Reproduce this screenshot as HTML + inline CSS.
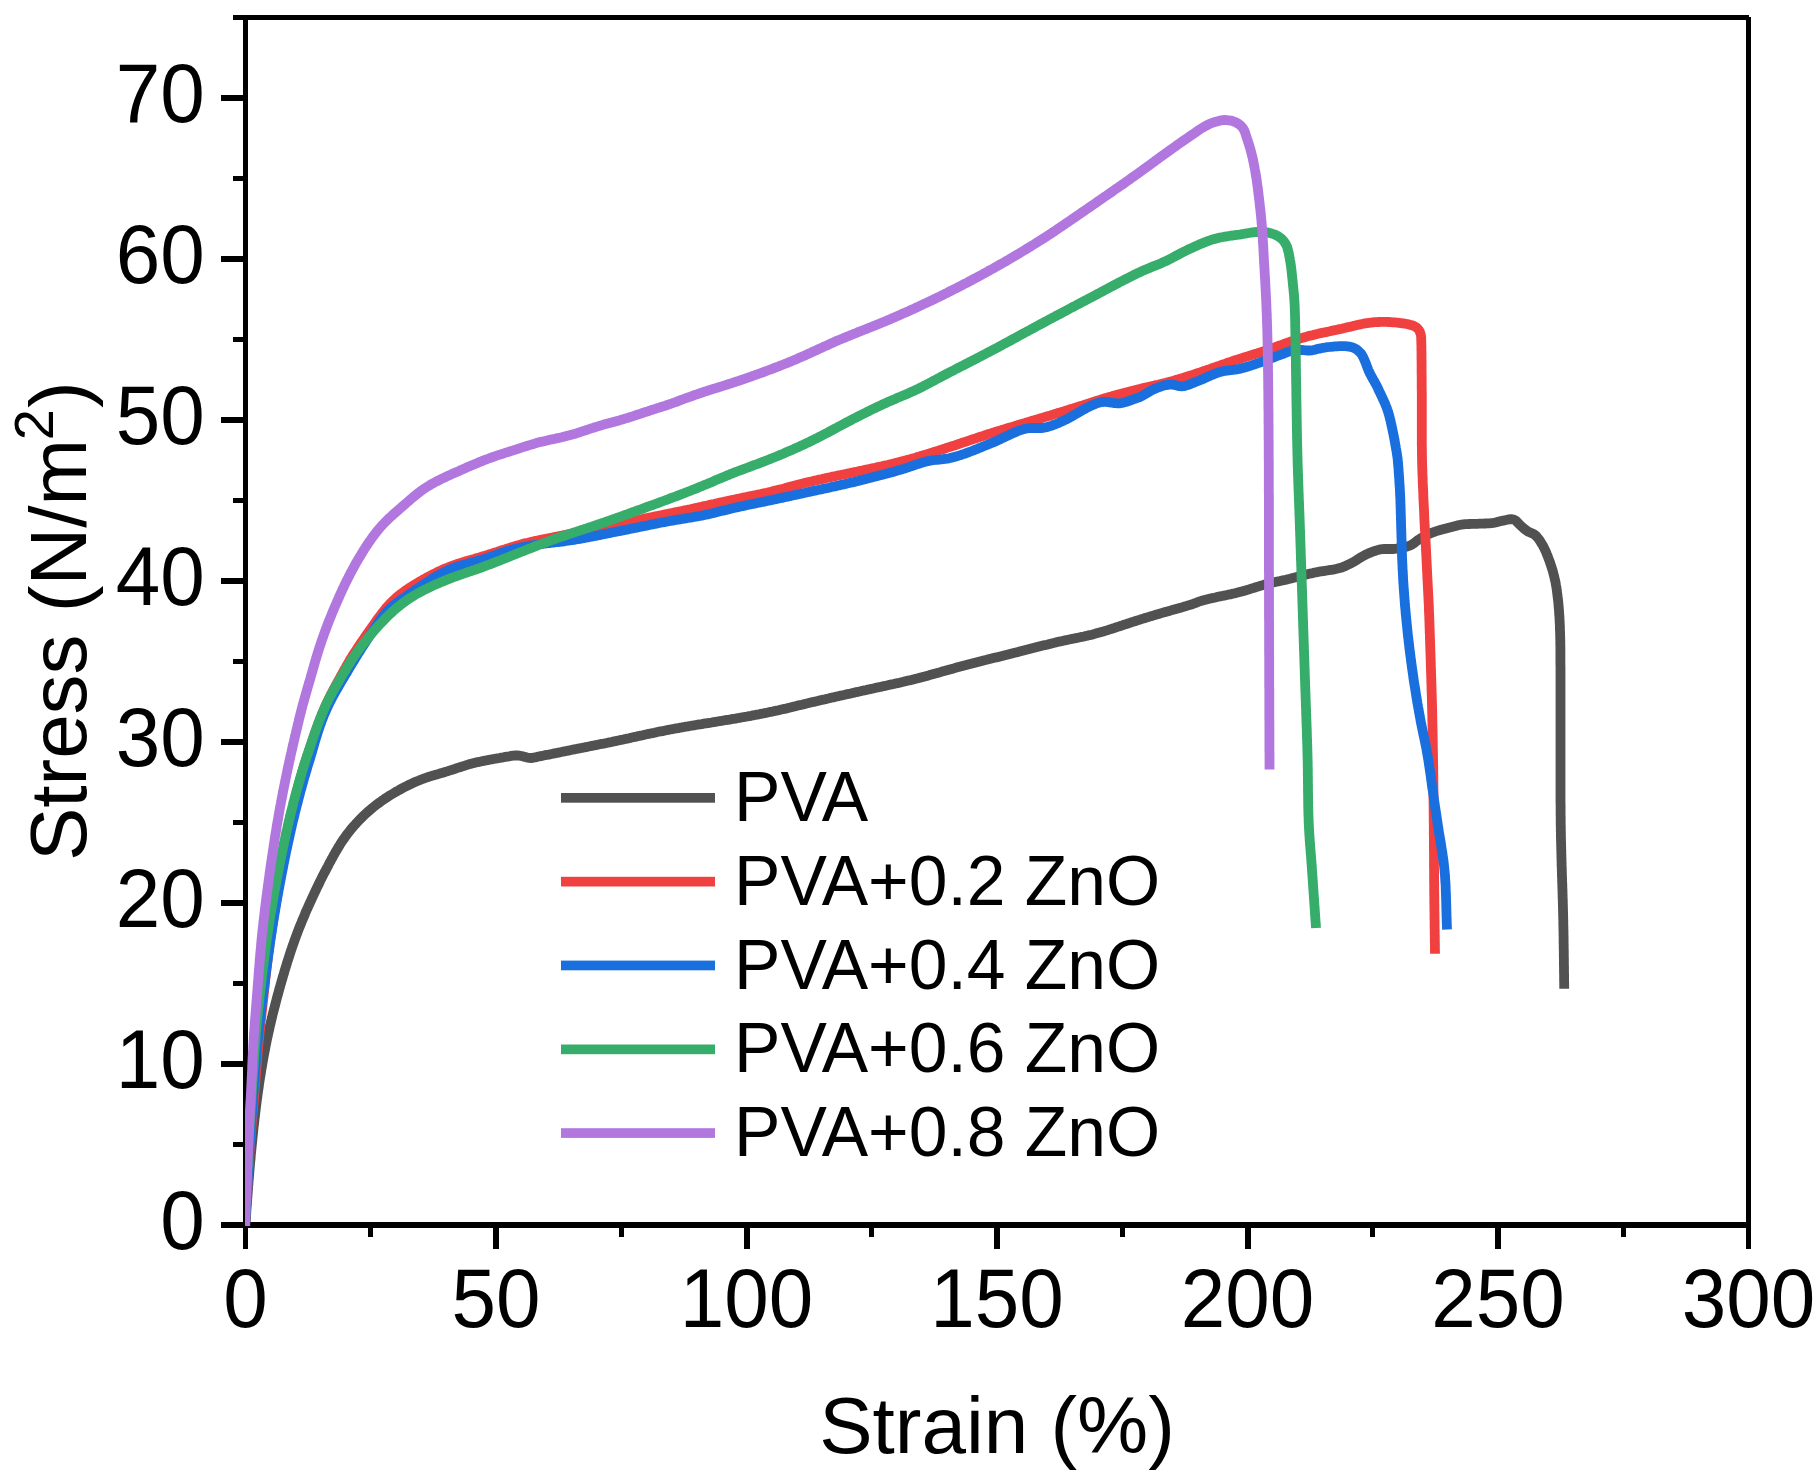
<!DOCTYPE html>
<html><head><meta charset="utf-8"><title>Stress-Strain</title>
<style>html,body{margin:0;padding:0;background:#fff}svg{display:block}text{font-family:"Liberation Sans",Arial,sans-serif;fill:#000}</style></head><body>
<svg width="1820" height="1484" viewBox="0 0 1820 1484">
<rect width="1820" height="1484" fill="#fff"/>
<g fill="#000" shape-rendering="crispEdges">
<rect x="233" y="15" width="1516" height="5"/>
<rect x="243" y="15" width="5" height="1213"/>
<rect x="1746" y="17" width="5" height="1232"/>
<rect x="221" y="1222" width="1530" height="6"/>
<rect x="221" y="1061" width="24" height="6"/>
<rect x="221" y="900" width="24" height="6"/>
<rect x="221" y="739" width="24" height="6"/>
<rect x="221" y="578" width="24" height="6"/>
<rect x="221" y="417" width="24" height="6"/>
<rect x="221" y="256" width="24" height="6"/>
<rect x="221" y="95" width="24" height="6"/>
<rect x="233" y="1142" width="12" height="5"/>
<rect x="233" y="981" width="12" height="5"/>
<rect x="233" y="820" width="12" height="5"/>
<rect x="233" y="659" width="12" height="5"/>
<rect x="233" y="498" width="12" height="5"/>
<rect x="233" y="337" width="12" height="5"/>
<rect x="233" y="176" width="12" height="5"/>
<rect x="243" y="1225" width="5" height="24"/>
<rect x="493" y="1225" width="6" height="24"/>
<rect x="744" y="1225" width="6" height="24"/>
<rect x="994" y="1225" width="6" height="24"/>
<rect x="1245" y="1225" width="6" height="24"/>
<rect x="1495" y="1225" width="6" height="24"/>
<rect x="368" y="1225" width="5" height="12"/>
<rect x="619" y="1225" width="5" height="12"/>
<rect x="869" y="1225" width="5" height="12"/>
<rect x="1120" y="1225" width="5" height="12"/>
<rect x="1370" y="1225" width="5" height="12"/>
<rect x="1621" y="1225" width="5" height="12"/>
</g>
<defs><clipPath id="plot"><rect x="245" y="15" width="1506" height="1211"/></clipPath></defs>
<g clip-path="url(#plot)" fill="none" stroke-width="9.8" stroke-linejoin="round" stroke-linecap="butt">
<path d="M245.3 1226.0 L245.5 1224.0 L245.6 1222.0 L245.7 1220.0 L245.9 1218.0 L246.0 1216.0 L246.2 1214.0 L246.3 1212.0 L246.4 1210.0 L246.6 1208.0 L246.7 1206.0 L246.9 1204.0 L247.0 1202.0 L247.2 1200.0 L247.3 1198.1 L247.5 1196.1 L247.6 1194.1 L247.8 1192.1 L247.9 1190.1 L248.1 1188.1 L248.2 1186.1 L248.4 1184.1 L248.5 1182.1 L248.7 1180.1 L248.9 1178.1 L249.0 1176.1 L249.2 1174.1 L249.3 1172.1 L249.5 1170.1 L249.7 1168.1 L249.9 1166.1 L250.0 1164.1 L250.2 1162.1 L250.4 1160.2 L250.6 1158.2 L250.7 1156.2 L250.9 1154.2 L251.1 1152.2 L251.3 1150.2 L251.5 1148.2 L251.7 1146.2 L251.9 1144.2 L252.1 1142.2 L252.3 1140.2 L252.5 1138.2 L252.7 1136.2 L252.9 1134.3 L253.1 1132.3 L253.3 1130.3 L253.5 1128.3 L253.7 1126.3 L254.0 1124.3 L254.2 1122.3 L254.4 1120.3 L254.6 1118.3 L254.9 1116.4 L255.1 1114.4 L255.3 1112.4 L255.6 1110.4 L255.8 1108.4 L256.1 1106.4 L256.3 1104.4 L256.6 1102.5 L256.8 1100.5 L257.1 1098.5 L257.4 1096.5 L257.6 1094.5 L257.9 1092.5 L258.2 1090.6 L258.5 1088.6 L258.8 1086.6 L259.0 1084.6 L259.3 1082.6 L259.6 1080.7 L259.9 1078.7 L260.2 1076.7 L260.6 1074.7 L260.9 1072.8 L261.2 1070.8 L261.5 1068.8 L261.9 1066.8 L262.2 1064.9 L262.5 1062.9 L262.9 1060.9 L263.2 1058.9 L263.6 1057.0 L263.9 1055.0 L264.3 1053.0 L264.7 1051.1 L265.1 1049.1 L265.4 1047.1 L265.8 1045.2 L266.2 1043.2 L266.6 1041.3 L267.0 1039.3 L267.4 1037.3 L267.9 1035.4 L268.3 1033.4 L268.7 1031.5 L269.2 1029.5 L269.6 1027.6 L270.0 1025.6 L270.5 1023.7 L270.9 1021.7 L271.4 1019.8 L271.9 1017.8 L272.3 1015.9 L272.8 1013.9 L273.3 1012.0 L273.8 1010.1 L274.3 1008.1 L274.8 1006.2 L275.3 1004.2 L275.8 1002.3 L276.3 1000.4 L276.8 998.4 L277.3 996.5 L277.9 994.6 L278.4 992.6 L278.9 990.7 L279.4 988.8 L280.0 986.9 L280.5 984.9 L281.1 983.0 L281.6 981.1 L282.2 979.2 L282.7 977.2 L283.3 975.3 L283.9 973.4 L284.4 971.5 L285.0 969.6 L285.6 967.6 L286.2 965.7 L286.8 963.8 L287.3 961.9 L288.0 960.0 L288.6 958.1 L289.2 956.2 L289.8 954.3 L290.4 952.4 L291.0 950.5 L291.7 948.6 L292.3 946.7 L293.0 944.8 L293.7 942.9 L294.3 941.0 L295.0 939.1 L295.7 937.3 L296.4 935.4 L297.1 933.5 L297.8 931.6 L298.5 929.8 L299.2 927.9 L300.0 926.1 L300.7 924.2 L301.5 922.4 L302.2 920.5 L303.0 918.7 L303.8 916.8 L304.6 915.0 L305.3 913.1 L306.1 911.3 L306.9 909.5 L307.8 907.6 L308.6 905.8 L309.4 904.0 L310.2 902.2 L311.1 900.3 L311.9 898.5 L312.7 896.7 L313.6 894.9 L314.4 893.1 L315.3 891.3 L316.2 889.4 L317.0 887.6 L317.9 885.8 L318.8 884.0 L319.6 882.2 L320.5 880.4 L321.4 878.6 L322.3 876.8 L323.2 875.0 L324.1 873.3 L325.1 871.5 L326.0 869.7 L326.9 867.9 L327.9 866.2 L328.8 864.4 L329.7 862.6 L330.7 860.9 L331.6 859.1 L332.6 857.4 L333.5 855.6 L334.5 853.9 L335.5 852.1 L336.5 850.4 L337.5 848.7 L338.5 847.0 L339.6 845.3 L340.6 843.6 L341.7 841.9 L342.9 840.2 L344.0 838.6 L345.1 837.0 L346.3 835.3 L347.5 833.7 L348.7 832.2 L350.0 830.6 L351.2 829.0 L352.5 827.5 L353.8 826.0 L355.2 824.5 L356.5 823.0 L357.9 821.5 L359.2 820.1 L360.6 818.7 L362.1 817.2 L363.5 815.8 L364.9 814.5 L366.4 813.1 L367.9 811.8 L369.4 810.5 L370.9 809.2 L372.5 807.9 L374.0 806.6 L375.6 805.4 L377.2 804.2 L378.8 803.0 L380.4 801.8 L382.0 800.6 L383.7 799.5 L385.3 798.4 L387.0 797.3 L388.7 796.2 L390.4 795.1 L392.1 794.1 L393.8 793.1 L395.5 792.0 L397.3 791.1 L399.0 790.1 L400.8 789.1 L402.5 788.2 L404.3 787.2 L406.1 786.3 L407.9 785.4 L409.7 784.5 L411.5 783.7 L413.3 782.8 L415.1 782.0 L417.0 781.2 L418.8 780.5 L420.7 779.7 L422.5 779.0 L424.4 778.3 L426.3 777.7 L428.2 777.0 L430.1 776.4 L432.0 775.8 L433.9 775.3 L435.8 774.7 L437.8 774.2 L439.7 773.6 L441.6 773.1 L443.5 772.5 L445.4 771.9 L447.3 771.3 L449.2 770.7 L451.1 770.1 L453.0 769.5 L454.9 768.9 L456.8 768.2 L458.7 767.6 L460.6 767.0 L462.5 766.4 L464.4 765.8 L466.3 765.2 L468.2 764.6 L470.1 764.1 L472.0 763.6 L474.0 763.1 L475.9 762.6 L477.9 762.1 L479.8 761.7 L481.8 761.3 L483.7 760.9 L485.7 760.5 L487.7 760.1 L489.6 759.7 L491.6 759.4 L493.6 759.0 L495.5 758.7 L497.5 758.3 L499.5 758.0 L501.4 757.6 L503.4 757.3 L505.4 756.9 L507.3 756.6 L509.3 756.3 L511.3 755.9 L513.3 755.6 L515.3 755.5 L517.3 755.5 L519.3 755.7 L521.2 756.0 L523.2 756.4 L525.1 756.9 L527.0 757.5 L529.0 757.9 L531.0 758.0 L533.0 757.8 L534.9 757.4 L536.9 756.9 L538.8 756.5 L540.8 756.1 L542.8 755.7 L544.7 755.3 L546.7 754.9 L548.7 754.6 L550.6 754.2 L552.6 753.8 L554.5 753.4 L556.5 753.0 L558.5 752.6 L560.4 752.2 L562.4 751.8 L564.4 751.4 L566.3 751.0 L568.3 750.6 L570.2 750.2 L572.2 749.8 L574.2 749.4 L576.1 749.0 L578.1 748.6 L580.1 748.2 L582.0 747.9 L584.0 747.5 L585.9 747.1 L587.9 746.7 L589.9 746.3 L591.8 745.9 L593.8 745.5 L595.8 745.1 L597.7 744.7 L599.7 744.3 L601.6 743.9 L603.6 743.6 L605.6 743.2 L607.5 742.8 L609.5 742.4 L611.5 742.0 L613.4 741.5 L615.4 741.1 L617.3 740.7 L619.3 740.3 L621.2 739.9 L623.2 739.5 L625.2 739.0 L627.1 738.6 L629.1 738.2 L631.0 737.7 L633.0 737.3 L634.9 736.9 L636.9 736.4 L638.8 736.0 L640.8 735.6 L642.7 735.2 L644.7 734.7 L646.7 734.3 L648.6 733.9 L650.6 733.5 L652.5 733.1 L654.5 732.7 L656.4 732.2 L658.4 731.8 L660.4 731.4 L662.3 731.1 L664.3 730.7 L666.3 730.3 L668.2 729.9 L670.2 729.5 L672.2 729.2 L674.1 728.8 L676.1 728.4 L678.1 728.1 L680.0 727.7 L682.0 727.4 L684.0 727.0 L685.9 726.7 L687.9 726.4 L689.9 726.0 L691.9 725.7 L693.8 725.4 L695.8 725.0 L697.8 724.7 L699.8 724.4 L701.7 724.1 L703.7 723.7 L705.7 723.4 L707.7 723.1 L709.6 722.8 L711.6 722.5 L713.6 722.1 L715.6 721.8 L717.5 721.5 L719.5 721.2 L721.5 720.9 L723.5 720.5 L725.4 720.2 L727.4 719.9 L729.4 719.6 L731.4 719.2 L733.3 718.9 L735.3 718.6 L737.3 718.2 L739.3 717.9 L741.2 717.5 L743.2 717.2 L745.2 716.8 L747.1 716.5 L749.1 716.1 L751.1 715.8 L753.0 715.4 L755.0 715.0 L757.0 714.6 L758.9 714.3 L760.9 713.9 L762.9 713.5 L764.8 713.1 L766.8 712.7 L768.7 712.3 L770.7 711.9 L772.7 711.5 L774.6 711.0 L776.6 710.6 L778.5 710.2 L780.5 709.7 L782.4 709.3 L784.4 708.9 L786.3 708.4 L788.3 707.9 L790.2 707.5 L792.2 707.0 L794.1 706.5 L796.1 706.1 L798.0 705.6 L799.9 705.1 L801.9 704.7 L803.8 704.2 L805.8 703.7 L807.7 703.3 L809.7 702.8 L811.6 702.3 L813.6 701.9 L815.5 701.4 L817.5 701.0 L819.4 700.5 L821.4 700.0 L823.3 699.6 L825.3 699.2 L827.2 698.7 L829.2 698.3 L831.1 697.8 L833.1 697.4 L835.0 696.9 L837.0 696.5 L838.9 696.1 L840.9 695.6 L842.8 695.2 L844.8 694.8 L846.7 694.3 L848.7 693.9 L850.7 693.5 L852.6 693.0 L854.6 692.6 L856.5 692.1 L858.5 691.7 L860.4 691.3 L862.4 690.8 L864.3 690.4 L866.3 690.0 L868.2 689.5 L870.2 689.1 L872.1 688.7 L874.1 688.3 L876.1 687.8 L878.0 687.4 L880.0 687.0 L881.9 686.6 L883.9 686.1 L885.8 685.7 L887.8 685.3 L889.7 684.8 L891.7 684.4 L893.6 684.0 L895.6 683.5 L897.6 683.1 L899.5 682.7 L901.5 682.2 L903.4 681.8 L905.4 681.3 L907.3 680.8 L909.2 680.4 L911.2 679.9 L913.1 679.4 L915.1 678.9 L917.0 678.5 L919.0 678.0 L920.9 677.4 L922.8 676.9 L924.8 676.4 L926.7 675.9 L928.6 675.4 L930.6 674.8 L932.5 674.3 L934.4 673.8 L936.3 673.2 L938.3 672.7 L940.2 672.2 L942.1 671.6 L944.0 671.1 L946.0 670.5 L947.9 670.0 L949.8 669.4 L951.7 668.9 L953.7 668.4 L955.6 667.8 L957.5 667.3 L959.5 666.8 L961.4 666.2 L963.3 665.7 L965.3 665.2 L967.2 664.7 L969.1 664.2 L971.1 663.7 L973.0 663.2 L974.9 662.7 L976.9 662.2 L978.8 661.7 L980.8 661.2 L982.7 660.7 L984.6 660.2 L986.6 659.8 L988.5 659.3 L990.5 658.8 L992.4 658.3 L994.4 657.8 L996.3 657.4 L998.2 656.9 L1000.2 656.4 L1002.1 655.9 L1004.1 655.4 L1006.0 655.0 L1008.0 654.5 L1009.9 654.0 L1011.8 653.5 L1013.8 653.0 L1015.7 652.5 L1017.7 652.1 L1019.6 651.6 L1021.5 651.1 L1023.5 650.6 L1025.4 650.1 L1027.4 649.6 L1029.3 649.1 L1031.2 648.6 L1033.2 648.1 L1035.1 647.6 L1037.1 647.1 L1039.0 646.6 L1040.9 646.1 L1042.9 645.6 L1044.8 645.1 L1046.8 644.7 L1048.7 644.2 L1050.6 643.7 L1052.6 643.2 L1054.5 642.8 L1056.5 642.3 L1058.4 641.8 L1060.4 641.4 L1062.3 641.0 L1064.3 640.5 L1066.2 640.1 L1068.2 639.7 L1070.2 639.3 L1072.1 638.9 L1074.1 638.5 L1076.0 638.1 L1078.0 637.7 L1080.0 637.3 L1081.9 636.9 L1083.9 636.5 L1085.8 636.0 L1087.8 635.6 L1089.7 635.1 L1091.7 634.7 L1093.6 634.2 L1095.5 633.6 L1097.5 633.1 L1099.4 632.6 L1101.3 632.0 L1103.2 631.5 L1105.2 630.9 L1107.1 630.3 L1109.0 629.7 L1110.9 629.1 L1112.8 628.5 L1114.7 627.9 L1116.6 627.2 L1118.5 626.6 L1120.4 626.0 L1122.3 625.4 L1124.2 624.7 L1126.1 624.1 L1128.0 623.5 L1129.9 622.9 L1131.8 622.2 L1133.7 621.6 L1135.6 621.0 L1137.5 620.4 L1139.4 619.8 L1141.3 619.2 L1143.2 618.6 L1145.1 618.0 L1147.1 617.4 L1149.0 616.8 L1150.9 616.2 L1152.8 615.7 L1154.7 615.1 L1156.6 614.5 L1158.6 614.0 L1160.5 613.4 L1162.4 612.8 L1164.3 612.3 L1166.3 611.7 L1168.2 611.2 L1170.1 610.7 L1172.0 610.1 L1174.0 609.6 L1175.9 609.0 L1177.8 608.5 L1179.7 607.9 L1181.7 607.4 L1183.6 606.8 L1185.5 606.3 L1187.4 605.7 L1189.3 605.1 L1191.3 604.5 L1193.1 603.9 L1195.0 603.2 L1196.9 602.4 L1198.7 601.7 L1200.6 601.1 L1202.5 600.5 L1204.5 600.0 L1206.4 599.5 L1208.4 599.0 L1210.3 598.5 L1212.3 598.1 L1214.2 597.7 L1216.2 597.3 L1218.1 596.8 L1220.1 596.4 L1222.1 596.0 L1224.0 595.6 L1226.0 595.2 L1227.9 594.8 L1229.9 594.4 L1231.8 593.9 L1233.8 593.5 L1235.7 593.1 L1237.7 592.6 L1239.6 592.1 L1241.6 591.6 L1243.5 591.0 L1245.4 590.5 L1247.3 589.9 L1249.2 589.3 L1251.1 588.7 L1253.1 588.1 L1255.0 587.5 L1256.9 586.9 L1258.8 586.3 L1260.7 585.7 L1262.6 585.2 L1264.5 584.6 L1266.5 584.1 L1268.4 583.6 L1270.4 583.2 L1272.3 582.7 L1274.3 582.3 L1276.2 581.8 L1278.2 581.4 L1280.1 581.0 L1282.1 580.5 L1284.0 580.1 L1286.0 579.7 L1287.9 579.2 L1289.9 578.8 L1291.8 578.3 L1293.8 577.8 L1295.7 577.3 L1297.7 576.8 L1299.6 576.3 L1301.5 575.8 L1303.5 575.3 L1305.4 574.8 L1307.3 574.3 L1309.3 573.8 L1311.2 573.4 L1313.2 572.9 L1315.1 572.5 L1317.1 572.1 L1319.1 571.7 L1321.0 571.4 L1323.0 571.1 L1325.0 570.8 L1327.0 570.5 L1329.0 570.2 L1330.9 569.9 L1332.9 569.6 L1334.9 569.2 L1336.8 568.8 L1338.8 568.3 L1340.7 567.8 L1342.6 567.1 L1344.5 566.4 L1346.3 565.6 L1348.1 564.7 L1349.9 563.8 L1351.7 562.9 L1353.4 562.0 L1355.2 561.0 L1356.9 559.9 L1358.5 558.8 L1360.2 557.7 L1361.9 556.7 L1363.7 555.7 L1365.4 554.8 L1367.3 553.9 L1369.1 553.1 L1370.9 552.4 L1372.8 551.6 L1374.7 551.0 L1376.6 550.4 L1378.5 549.8 L1380.5 549.4 L1382.5 549.2 L1384.5 549.0 L1386.5 549.0 L1388.5 549.0 L1390.5 549.0 L1392.5 549.0 L1394.5 548.8 L1396.4 548.6 L1398.4 548.3 L1400.4 548.0 L1402.4 547.6 L1404.3 547.2 L1406.3 546.8 L1408.2 546.2 L1410.1 545.5 L1411.8 544.6 L1413.5 543.5 L1415.1 542.3 L1416.7 541.0 L1418.3 539.9 L1420.0 538.8 L1421.7 537.8 L1423.5 536.8 L1425.2 535.9 L1427.0 534.9 L1428.8 534.1 L1430.7 533.3 L1432.5 532.5 L1434.4 531.8 L1436.3 531.2 L1438.2 530.6 L1440.1 530.0 L1442.0 529.5 L1444.0 528.9 L1445.9 528.4 L1447.8 527.9 L1449.8 527.4 L1451.7 526.9 L1453.6 526.4 L1455.6 525.9 L1457.5 525.4 L1459.5 525.0 L1461.4 524.7 L1463.4 524.4 L1465.4 524.2 L1467.4 524.1 L1469.4 524.0 L1471.4 523.9 L1473.4 523.9 L1475.4 523.8 L1477.4 523.8 L1479.4 523.7 L1481.4 523.6 L1483.4 523.6 L1485.4 523.5 L1487.4 523.4 L1489.4 523.3 L1491.4 523.1 L1493.4 522.9 L1495.4 522.5 L1497.3 522.0 L1499.2 521.5 L1501.2 521.0 L1503.1 520.6 L1505.1 520.2 L1507.1 519.8 L1509.0 519.4 L1511.0 519.2 L1513.0 519.3 L1514.9 520.0 L1516.4 521.3 L1517.8 522.7 L1519.2 524.2 L1520.6 525.5 L1522.1 526.9 L1523.6 528.2 L1525.1 529.5 L1526.7 530.7 L1528.4 531.8 L1530.3 532.6 L1532.1 533.3 L1533.9 534.2 L1535.5 535.4 L1536.9 536.9 L1538.2 538.4 L1539.4 540.0 L1540.5 541.7 L1541.5 543.4 L1542.6 545.1 L1543.5 546.8 L1544.4 548.6 L1545.3 550.5 L1546.1 552.3 L1546.8 554.1 L1547.6 556.0 L1548.3 557.9 L1549.0 559.7 L1549.7 561.6 L1550.3 563.5 L1551.0 565.4 L1551.6 567.3 L1552.2 569.2 L1552.8 571.1 L1553.3 573.1 L1553.8 575.0 L1554.3 576.9 L1554.7 578.9 L1555.2 580.8 L1555.6 582.8 L1555.9 584.8 L1556.3 586.7 L1556.6 588.7 L1556.9 590.7 L1557.1 592.7 L1557.4 594.7 L1557.6 596.7 L1557.8 598.6 L1558.1 600.6 L1558.3 602.6 L1558.5 604.6 L1558.6 606.6 L1558.8 608.6 L1559.0 610.6 L1559.1 612.6 L1559.2 614.6 L1559.4 616.6 L1559.5 618.6 L1559.6 620.6 L1559.7 622.6 L1559.8 624.6 L1559.9 626.6 L1559.9 628.6 L1560.0 630.6 L1560.1 632.6 L1560.1 634.6 L1560.2 636.6 L1560.2 638.6 L1560.3 640.6 L1560.3 642.6 L1560.3 644.6 L1560.4 646.6 L1560.4 648.6 L1560.4 650.6 L1560.4 652.6 L1560.4 654.6 L1560.4 656.6 L1560.4 658.6 L1560.4 660.6 L1560.4 662.6 L1560.4 664.6 L1560.5 666.6 L1560.5 668.6 L1560.5 670.6 L1560.5 672.6 L1560.5 674.6 L1560.5 676.6 L1560.5 678.6 L1560.5 680.6 L1560.5 682.6 L1560.5 684.6 L1560.5 686.6 L1560.5 688.6 L1560.5 690.6 L1560.5 692.6 L1560.5 694.6 L1560.5 696.6 L1560.5 698.6 L1560.5 700.6 L1560.5 702.6 L1560.5 704.6 L1560.5 706.6 L1560.5 708.6 L1560.5 710.6 L1560.5 712.6 L1560.5 714.6 L1560.5 716.6 L1560.5 718.6 L1560.5 720.6 L1560.5 722.6 L1560.5 724.6 L1560.5 726.6 L1560.5 728.6 L1560.5 730.6 L1560.5 732.6 L1560.5 734.6 L1560.5 736.6 L1560.5 738.6 L1560.5 740.6 L1560.5 742.6 L1560.5 744.6 L1560.5 746.6 L1560.5 748.6 L1560.5 750.6 L1560.5 752.6 L1560.5 754.6 L1560.5 756.7 L1560.5 758.7 L1560.5 760.7 L1560.5 762.7 L1560.5 764.7 L1560.5 766.7 L1560.5 768.7 L1560.5 770.7 L1560.5 772.7 L1560.5 774.7 L1560.5 776.7 L1560.5 778.7 L1560.5 780.7 L1560.5 782.7 L1560.5 784.7 L1560.5 786.7 L1560.5 788.7 L1560.5 790.7 L1560.5 792.7 L1560.5 794.7 L1560.5 796.7 L1560.5 798.7 L1560.5 800.7 L1560.5 802.7 L1560.6 804.7 L1560.6 806.7 L1560.6 808.7 L1560.6 810.7 L1560.6 812.7 L1560.6 814.7 L1560.7 816.7 L1560.7 818.7 L1560.7 820.7 L1560.7 822.7 L1560.7 824.7 L1560.8 826.7 L1560.8 828.7 L1560.8 830.7 L1560.9 832.7 L1560.9 834.7 L1560.9 836.7 L1561.0 838.7 L1561.0 840.7 L1561.1 842.7 L1561.1 844.7 L1561.2 846.7 L1561.2 848.7 L1561.3 850.7 L1561.3 852.7 L1561.4 854.7 L1561.4 856.7 L1561.5 858.7 L1561.5 860.7 L1561.6 862.7 L1561.6 864.7 L1561.7 866.7 L1561.8 868.7 L1561.8 870.7 L1561.9 872.7 L1561.9 874.7 L1562.0 876.7 L1562.1 878.7 L1562.1 880.7 L1562.2 882.7 L1562.3 884.7 L1562.3 886.7 L1562.4 888.7 L1562.5 890.7 L1562.5 892.7 L1562.6 894.7 L1562.6 896.7 L1562.7 898.7 L1562.8 900.7 L1562.8 902.7 L1562.9 904.7 L1562.9 906.7 L1563.0 908.7 L1563.0 910.7 L1563.1 912.7 L1563.1 914.7 L1563.2 916.7 L1563.2 918.7 L1563.3 920.7 L1563.3 922.7 L1563.3 924.7 L1563.4 926.7 L1563.4 928.7 L1563.5 930.7 L1563.5 932.7 L1563.5 934.7 L1563.6 936.7 L1563.6 938.7 L1563.6 940.7 L1563.6 942.7 L1563.7 944.7 L1563.7 946.7 L1563.7 948.7 L1563.8 950.7 L1563.8 952.7 L1563.8 954.7 L1563.8 956.7 L1563.9 958.7 L1563.9 960.7 L1563.9 962.7 L1563.9 964.7 L1564.0 966.7 L1564.0 968.7 L1564.0 970.7 L1564.0 972.7 L1564.1 974.7 L1564.1 976.7 L1564.1 978.7 L1564.1 980.7 L1564.2 982.7 L1564.2 984.7 L1564.2 986.7 L1564.2 988.8" stroke="#515151"/>
<path d="M245.0 1226.0 L245.1 1224.0 L245.2 1222.0 L245.4 1220.0 L245.5 1218.0 L245.6 1216.0 L245.7 1214.0 L245.9 1212.0 L246.0 1210.0 L246.1 1208.0 L246.2 1206.0 L246.3 1204.0 L246.4 1202.0 L246.6 1200.0 L246.7 1198.0 L246.8 1196.0 L246.9 1194.0 L247.0 1192.1 L247.1 1190.1 L247.3 1188.1 L247.4 1186.1 L247.5 1184.1 L247.6 1182.1 L247.7 1180.1 L247.9 1178.1 L248.0 1176.1 L248.1 1174.1 L248.2 1172.1 L248.3 1170.1 L248.5 1168.1 L248.6 1166.1 L248.7 1164.1 L248.9 1162.1 L249.0 1160.1 L249.1 1158.1 L249.3 1156.1 L249.4 1154.1 L249.5 1152.1 L249.7 1150.1 L249.8 1148.1 L250.0 1146.1 L250.1 1144.1 L250.3 1142.1 L250.4 1140.1 L250.6 1138.2 L250.7 1136.2 L250.9 1134.2 L251.1 1132.2 L251.2 1130.2 L251.4 1128.2 L251.5 1126.2 L251.7 1124.2 L251.9 1122.2 L252.1 1120.2 L252.2 1118.2 L252.4 1116.2 L252.6 1114.2 L252.7 1112.2 L252.9 1110.2 L253.1 1108.3 L253.3 1106.3 L253.4 1104.3 L253.6 1102.3 L253.8 1100.3 L254.0 1098.3 L254.1 1096.3 L254.3 1094.3 L254.5 1092.3 L254.6 1090.3 L254.8 1088.3 L255.0 1086.3 L255.1 1084.3 L255.3 1082.3 L255.4 1080.3 L255.6 1078.4 L255.8 1076.4 L255.9 1074.4 L256.1 1072.4 L256.2 1070.4 L256.4 1068.4 L256.6 1066.4 L256.7 1064.4 L256.9 1062.4 L257.0 1060.4 L257.2 1058.4 L257.4 1056.4 L257.5 1054.4 L257.7 1052.4 L257.9 1050.4 L258.1 1048.4 L258.2 1046.5 L258.4 1044.5 L258.6 1042.5 L258.8 1040.5 L259.0 1038.5 L259.2 1036.5 L259.4 1034.5 L259.6 1032.5 L259.8 1030.5 L260.0 1028.5 L260.2 1026.6 L260.4 1024.6 L260.6 1022.6 L260.8 1020.6 L261.1 1018.6 L261.3 1016.6 L261.5 1014.6 L261.7 1012.6 L261.9 1010.6 L262.2 1008.7 L262.4 1006.7 L262.6 1004.7 L262.8 1002.7 L263.0 1000.7 L263.2 998.7 L263.5 996.7 L263.7 994.7 L263.9 992.8 L264.1 990.8 L264.3 988.8 L264.6 986.8 L264.8 984.8 L265.0 982.8 L265.2 980.8 L265.4 978.8 L265.6 976.8 L265.9 974.9 L266.1 972.9 L266.3 970.9 L266.5 968.9 L266.8 966.9 L267.0 964.9 L267.2 962.9 L267.5 960.9 L267.7 959.0 L267.9 957.0 L268.2 955.0 L268.4 953.0 L268.7 951.0 L268.9 949.0 L269.2 947.1 L269.5 945.1 L269.7 943.1 L270.0 941.1 L270.3 939.1 L270.6 937.1 L270.8 935.2 L271.1 933.2 L271.4 931.2 L271.7 929.2 L272.0 927.2 L272.3 925.3 L272.6 923.3 L272.9 921.3 L273.2 919.3 L273.5 917.4 L273.9 915.4 L274.2 913.4 L274.5 911.4 L274.8 909.5 L275.2 907.5 L275.5 905.5 L275.8 903.5 L276.2 901.6 L276.5 899.6 L276.9 897.6 L277.2 895.7 L277.5 893.7 L277.9 891.7 L278.2 889.8 L278.6 887.8 L279.0 885.8 L279.3 883.8 L279.7 881.9 L280.0 879.9 L280.4 877.9 L280.8 876.0 L281.1 874.0 L281.5 872.0 L281.8 870.1 L282.2 868.1 L282.6 866.1 L282.9 864.2 L283.3 862.2 L283.6 860.2 L284.0 858.3 L284.4 856.3 L284.7 854.3 L285.1 852.3 L285.4 850.4 L285.8 848.4 L286.2 846.4 L286.5 844.5 L286.9 842.5 L287.2 840.5 L287.6 838.6 L287.9 836.6 L288.3 834.6 L288.6 832.7 L289.0 830.7 L289.4 828.7 L289.7 826.7 L290.1 824.8 L290.5 822.8 L290.8 820.8 L291.2 818.9 L291.6 816.9 L292.0 815.0 L292.4 813.0 L292.7 811.0 L293.1 809.1 L293.6 807.1 L294.0 805.2 L294.4 803.2 L294.8 801.3 L295.3 799.3 L295.7 797.4 L296.1 795.4 L296.6 793.5 L297.1 791.5 L297.5 789.6 L298.0 787.6 L298.5 785.7 L299.0 783.8 L299.5 781.8 L300.1 779.9 L300.6 778.0 L301.1 776.0 L301.7 774.1 L302.2 772.2 L302.8 770.3 L303.3 768.4 L303.9 766.4 L304.5 764.5 L305.1 762.6 L305.7 760.7 L306.4 758.8 L307.0 756.9 L307.6 755.0 L308.3 753.1 L308.9 751.2 L309.6 749.3 L310.2 747.4 L310.8 745.6 L311.5 743.7 L312.1 741.8 L312.8 739.9 L313.4 738.0 L314.0 736.1 L314.7 734.2 L315.4 732.3 L316.0 730.4 L316.7 728.5 L317.3 726.6 L318.0 724.7 L318.7 722.9 L319.4 721.0 L320.1 719.1 L320.8 717.2 L321.6 715.4 L322.3 713.5 L323.1 711.7 L323.8 709.8 L324.6 708.0 L325.4 706.2 L326.2 704.3 L327.1 702.5 L327.9 700.7 L328.8 698.9 L329.7 697.1 L330.6 695.3 L331.5 693.5 L332.4 691.8 L333.3 690.0 L334.2 688.2 L335.2 686.5 L336.1 684.7 L337.1 682.9 L338.0 681.2 L339.0 679.4 L340.0 677.7 L340.9 675.9 L341.9 674.2 L342.9 672.4 L343.8 670.7 L344.8 668.9 L345.8 667.2 L346.8 665.4 L347.8 663.7 L348.8 662.0 L349.8 660.3 L350.8 658.5 L351.9 656.8 L352.9 655.1 L354.0 653.4 L355.1 651.8 L356.2 650.1 L357.3 648.4 L358.4 646.7 L359.5 645.1 L360.6 643.4 L361.7 641.8 L362.9 640.1 L364.0 638.5 L365.1 636.8 L366.3 635.2 L367.4 633.5 L368.6 631.9 L369.7 630.2 L370.9 628.6 L372.0 627.0 L373.2 625.3 L374.3 623.7 L375.5 622.0 L376.6 620.4 L377.8 618.8 L379.0 617.2 L380.2 615.6 L381.4 614.0 L382.6 612.4 L383.9 610.8 L385.1 609.3 L386.4 607.7 L387.7 606.2 L389.1 604.8 L390.4 603.3 L391.8 601.9 L393.2 600.5 L394.7 599.1 L396.2 597.8 L397.7 596.5 L399.2 595.2 L400.8 594.0 L402.4 592.8 L404.0 591.6 L405.6 590.4 L407.3 589.3 L408.9 588.2 L410.6 587.1 L412.3 586.0 L414.0 585.0 L415.7 583.9 L417.4 582.9 L419.1 581.9 L420.9 580.9 L422.6 579.9 L424.4 578.9 L426.1 577.9 L427.9 577.0 L429.7 576.0 L431.4 575.1 L433.2 574.2 L435.0 573.3 L436.8 572.4 L438.6 571.5 L440.4 570.7 L442.2 569.8 L444.0 569.0 L445.9 568.2 L447.7 567.5 L449.6 566.7 L451.4 566.0 L453.3 565.3 L455.2 564.7 L457.1 564.0 L459.0 563.4 L460.9 562.8 L462.8 562.2 L464.7 561.6 L466.6 561.1 L468.6 560.5 L470.5 560.0 L472.4 559.4 L474.3 558.9 L476.3 558.3 L478.2 557.8 L480.1 557.2 L482.0 556.6 L483.9 556.1 L485.8 555.5 L487.8 554.9 L489.7 554.2 L491.6 553.6 L493.5 553.0 L495.4 552.4 L497.3 551.8 L499.2 551.1 L501.1 550.5 L503.0 549.9 L504.9 549.3 L506.8 548.7 L508.7 548.1 L510.6 547.5 L512.5 546.9 L514.4 546.3 L516.3 545.7 L518.3 545.2 L520.2 544.7 L522.1 544.1 L524.1 543.6 L526.0 543.1 L527.9 542.7 L529.9 542.2 L531.8 541.7 L533.8 541.3 L535.7 540.9 L537.7 540.5 L539.6 540.0 L541.6 539.6 L543.6 539.2 L545.5 538.9 L547.5 538.5 L549.5 538.1 L551.4 537.7 L553.4 537.3 L555.3 536.9 L557.3 536.5 L559.3 536.1 L561.2 535.7 L563.2 535.3 L565.2 534.9 L567.1 534.5 L569.1 534.1 L571.0 533.7 L573.0 533.3 L575.0 532.9 L576.9 532.5 L578.9 532.1 L580.8 531.7 L582.8 531.3 L584.7 530.9 L586.7 530.5 L588.7 530.1 L590.6 529.7 L592.6 529.2 L594.5 528.8 L596.5 528.4 L598.5 528.0 L600.4 527.6 L602.4 527.2 L604.3 526.8 L606.3 526.4 L608.3 526.0 L610.2 525.6 L612.2 525.2 L614.1 524.8 L616.1 524.4 L618.1 524.0 L620.0 523.6 L622.0 523.2 L623.9 522.8 L625.9 522.4 L627.9 522.0 L629.8 521.6 L631.8 521.2 L633.7 520.8 L635.7 520.4 L637.7 520.0 L639.6 519.6 L641.6 519.2 L643.5 518.8 L645.5 518.4 L647.5 518.0 L649.4 517.6 L651.4 517.2 L653.3 516.8 L655.3 516.4 L657.3 516.0 L659.2 515.6 L661.2 515.2 L663.2 514.8 L665.1 514.4 L667.1 514.0 L669.0 513.6 L671.0 513.2 L673.0 512.8 L674.9 512.4 L676.9 512.0 L678.8 511.6 L680.8 511.2 L682.8 510.8 L684.7 510.4 L686.7 510.0 L688.6 509.6 L690.6 509.2 L692.5 508.7 L694.5 508.3 L696.5 507.9 L698.4 507.4 L700.4 507.0 L702.3 506.6 L704.3 506.1 L706.2 505.7 L708.2 505.3 L710.1 504.8 L712.1 504.4 L714.0 504.0 L716.0 503.5 L717.9 503.1 L719.9 502.6 L721.8 502.2 L723.8 501.8 L725.8 501.4 L727.7 500.9 L729.7 500.5 L731.6 500.1 L733.6 499.7 L735.5 499.3 L737.5 498.9 L739.5 498.5 L741.4 498.1 L743.4 497.6 L745.3 497.2 L747.3 496.8 L749.3 496.4 L751.2 496.0 L753.2 495.6 L755.1 495.2 L757.1 494.8 L759.0 494.4 L761.0 494.0 L763.0 493.5 L764.9 493.1 L766.9 492.7 L768.8 492.2 L770.8 491.8 L772.7 491.3 L774.6 490.8 L776.6 490.3 L778.5 489.8 L780.5 489.4 L782.4 488.9 L784.3 488.4 L786.3 487.8 L788.2 487.3 L790.1 486.8 L792.1 486.3 L794.0 485.8 L795.9 485.3 L797.9 484.8 L799.8 484.3 L801.8 483.8 L803.7 483.3 L805.6 482.8 L807.6 482.3 L809.5 481.9 L811.5 481.4 L813.4 480.9 L815.4 480.5 L817.3 480.1 L819.3 479.6 L821.2 479.2 L823.2 478.7 L825.1 478.3 L827.1 477.9 L829.0 477.5 L831.0 477.1 L833.0 476.6 L834.9 476.2 L836.9 475.8 L838.8 475.4 L840.8 475.0 L842.8 474.6 L844.7 474.2 L846.7 473.8 L848.6 473.4 L850.6 472.9 L852.5 472.5 L854.5 472.1 L856.5 471.7 L858.4 471.3 L860.4 470.9 L862.3 470.5 L864.3 470.0 L866.2 469.6 L868.2 469.2 L870.2 468.8 L872.1 468.4 L874.1 468.0 L876.0 467.6 L878.0 467.1 L879.9 466.7 L881.9 466.3 L883.8 465.8 L885.8 465.4 L887.8 465.0 L889.7 464.5 L891.6 464.0 L893.6 463.6 L895.5 463.1 L897.5 462.6 L899.4 462.1 L901.3 461.6 L903.3 461.1 L905.2 460.6 L907.1 460.0 L909.1 459.5 L911.0 459.0 L912.9 458.4 L914.8 457.9 L916.8 457.3 L918.7 456.7 L920.6 456.1 L922.5 455.6 L924.4 455.0 L926.3 454.4 L928.2 453.8 L930.2 453.2 L932.1 452.6 L934.0 452.0 L935.9 451.4 L937.8 450.8 L939.7 450.2 L941.6 449.6 L943.5 449.0 L945.4 448.4 L947.3 447.7 L949.2 447.1 L951.1 446.5 L953.0 445.9 L954.9 445.3 L956.8 444.6 L958.7 444.0 L960.6 443.4 L962.5 442.7 L964.4 442.1 L966.3 441.5 L968.2 440.8 L970.1 440.2 L972.0 439.5 L973.9 438.9 L975.8 438.3 L977.7 437.6 L979.6 437.0 L981.5 436.4 L983.4 435.8 L985.3 435.1 L987.2 434.5 L989.1 433.9 L991.0 433.3 L992.9 432.7 L994.8 432.1 L996.7 431.5 L998.7 430.9 L1000.6 430.3 L1002.5 429.7 L1004.4 429.2 L1006.3 428.6 L1008.2 428.0 L1010.1 427.4 L1012.1 426.9 L1014.0 426.3 L1015.9 425.7 L1017.8 425.1 L1019.7 424.6 L1021.6 424.0 L1023.6 423.4 L1025.5 422.8 L1027.4 422.3 L1029.3 421.7 L1031.2 421.1 L1033.1 420.6 L1035.1 420.0 L1037.0 419.4 L1038.9 418.8 L1040.8 418.2 L1042.7 417.7 L1044.6 417.1 L1046.6 416.5 L1048.5 415.9 L1050.4 415.4 L1052.3 414.8 L1054.2 414.2 L1056.1 413.6 L1058.0 413.0 L1060.0 412.5 L1061.9 411.9 L1063.8 411.3 L1065.7 410.7 L1067.6 410.1 L1069.5 409.5 L1071.4 408.9 L1073.3 408.3 L1075.3 407.7 L1077.2 407.1 L1079.1 406.5 L1081.0 405.9 L1082.9 405.3 L1084.8 404.7 L1086.7 404.1 L1088.6 403.5 L1090.5 402.8 L1092.4 402.2 L1094.3 401.6 L1096.2 401.0 L1098.1 400.4 L1100.0 399.8 L1101.9 399.2 L1103.9 398.6 L1105.8 398.1 L1107.7 397.5 L1109.6 396.9 L1111.5 396.4 L1113.5 395.8 L1115.4 395.3 L1117.3 394.7 L1119.2 394.2 L1121.2 393.7 L1123.1 393.2 L1125.0 392.7 L1127.0 392.2 L1128.9 391.7 L1130.8 391.2 L1132.8 390.7 L1134.7 390.2 L1136.7 389.7 L1138.6 389.2 L1140.6 388.8 L1142.5 388.3 L1144.4 387.8 L1146.4 387.4 L1148.3 386.9 L1150.3 386.5 L1152.2 386.0 L1154.2 385.6 L1156.1 385.1 L1158.1 384.7 L1160.0 384.2 L1162.0 383.7 L1163.9 383.2 L1165.9 382.8 L1167.8 382.3 L1169.7 381.7 L1171.7 381.2 L1173.6 380.7 L1175.5 380.1 L1177.4 379.6 L1179.4 379.0 L1181.3 378.4 L1183.2 377.8 L1185.1 377.2 L1187.0 376.6 L1188.9 376.0 L1190.8 375.4 L1192.7 374.8 L1194.6 374.2 L1196.5 373.5 L1198.4 372.9 L1200.3 372.3 L1202.2 371.6 L1204.1 371.0 L1206.0 370.4 L1207.9 369.7 L1209.8 369.1 L1211.7 368.4 L1213.6 367.7 L1215.4 367.1 L1217.3 366.4 L1219.2 365.8 L1221.1 365.1 L1223.0 364.4 L1224.9 363.8 L1226.8 363.1 L1228.7 362.4 L1230.6 361.8 L1232.4 361.2 L1234.3 360.5 L1236.2 359.9 L1238.1 359.3 L1240.1 358.7 L1242.0 358.1 L1243.9 357.5 L1245.8 356.9 L1247.7 356.3 L1249.6 355.7 L1251.5 355.1 L1253.4 354.5 L1255.3 353.9 L1257.2 353.3 L1259.1 352.7 L1261.0 352.1 L1262.9 351.5 L1264.8 350.8 L1266.7 350.2 L1268.6 349.5 L1270.5 348.8 L1272.4 348.2 L1274.3 347.5 L1276.1 346.8 L1278.0 346.1 L1279.9 345.4 L1281.8 344.8 L1283.7 344.1 L1285.6 343.4 L1287.4 342.7 L1289.3 342.1 L1291.2 341.4 L1293.1 340.8 L1295.0 340.2 L1296.9 339.5 L1298.8 338.9 L1300.7 338.3 L1302.6 337.8 L1304.6 337.2 L1306.5 336.7 L1308.4 336.1 L1310.4 335.6 L1312.3 335.2 L1314.2 334.7 L1316.2 334.2 L1318.1 333.8 L1320.1 333.3 L1322.0 332.9 L1324.0 332.5 L1326.0 332.1 L1327.9 331.7 L1329.9 331.3 L1331.8 330.8 L1333.8 330.4 L1335.7 330.0 L1337.7 329.6 L1339.7 329.1 L1341.6 328.7 L1343.6 328.2 L1345.5 327.8 L1347.4 327.3 L1349.4 326.9 L1351.3 326.4 L1353.3 325.9 L1355.2 325.5 L1357.2 325.0 L1359.1 324.6 L1361.1 324.2 L1363.0 323.8 L1365.0 323.4 L1367.0 323.1 L1369.0 322.8 L1370.9 322.6 L1372.9 322.4 L1374.9 322.2 L1376.9 322.1 L1378.9 322.0 L1380.9 321.9 L1382.9 321.9 L1384.9 321.9 L1386.9 321.9 L1388.9 322.0 L1390.9 322.1 L1392.9 322.3 L1394.9 322.4 L1396.9 322.6 L1398.9 322.8 L1400.9 323.1 L1402.9 323.4 L1404.8 323.7 L1406.8 324.0 L1408.8 324.4 L1410.7 324.9 L1412.6 325.5 L1414.4 326.3 L1416.2 327.3 L1417.7 328.6 L1419.0 330.1 L1419.9 331.9 L1420.5 333.8 L1421.0 335.7 L1421.2 337.7 L1421.2 339.7 L1421.3 341.7 L1421.3 343.7 L1421.4 345.7 L1421.4 347.7 L1421.4 349.7 L1421.5 351.7 L1421.5 353.7 L1421.5 355.7 L1421.5 357.7 L1421.5 359.7 L1421.6 361.7 L1421.6 363.7 L1421.6 365.7 L1421.6 367.7 L1421.6 369.7 L1421.6 371.7 L1421.6 373.7 L1421.7 375.7 L1421.7 377.7 L1421.7 379.7 L1421.7 381.7 L1421.7 383.7 L1421.7 385.7 L1421.7 387.7 L1421.7 389.7 L1421.8 391.7 L1421.8 393.7 L1421.8 395.7 L1421.8 397.7 L1421.8 399.7 L1421.8 401.7 L1421.8 403.7 L1421.8 405.7 L1421.8 407.7 L1421.8 409.7 L1421.8 411.8 L1421.8 413.8 L1421.8 415.8 L1421.8 417.8 L1421.8 419.8 L1421.8 421.8 L1421.8 423.8 L1421.8 425.8 L1421.8 427.8 L1421.8 429.8 L1421.8 431.8 L1421.8 433.8 L1421.8 435.8 L1421.8 437.8 L1421.8 439.8 L1421.8 441.8 L1421.8 443.8 L1421.8 445.8 L1421.9 447.8 L1421.9 449.8 L1421.9 451.8 L1421.9 453.8 L1422.0 455.8 L1422.0 457.8 L1422.0 459.8 L1422.1 461.8 L1422.1 463.8 L1422.2 465.8 L1422.2 467.8 L1422.3 469.8 L1422.4 471.8 L1422.4 473.8 L1422.5 475.8 L1422.6 477.8 L1422.7 479.8 L1422.7 481.8 L1422.8 483.8 L1422.9 485.8 L1423.0 487.8 L1423.1 489.8 L1423.2 491.8 L1423.3 493.8 L1423.3 495.8 L1423.4 497.8 L1423.5 499.8 L1423.6 501.8 L1423.7 503.8 L1423.8 505.8 L1423.9 507.8 L1424.0 509.8 L1424.1 511.8 L1424.2 513.8 L1424.2 515.7 L1424.3 517.7 L1424.4 519.7 L1424.5 521.7 L1424.6 523.7 L1424.7 525.7 L1424.8 527.7 L1424.9 529.7 L1425.1 531.7 L1425.2 533.7 L1425.3 535.7 L1425.4 537.7 L1425.5 539.7 L1425.6 541.7 L1425.7 543.7 L1425.8 545.7 L1425.9 547.7 L1426.0 549.7 L1426.1 551.7 L1426.2 553.7 L1426.3 555.7 L1426.4 557.7 L1426.5 559.7 L1426.6 561.7 L1426.7 563.7 L1426.8 565.7 L1426.9 567.7 L1427.0 569.7 L1427.1 571.7 L1427.2 573.7 L1427.3 575.7 L1427.4 577.7 L1427.5 579.7 L1427.6 581.7 L1427.7 583.7 L1427.8 585.7 L1427.9 587.7 L1428.0 589.7 L1428.1 591.7 L1428.2 593.7 L1428.3 595.7 L1428.4 597.7 L1428.5 599.7 L1428.6 601.7 L1428.7 603.7 L1428.8 605.7 L1428.9 607.7 L1428.9 609.7 L1429.0 611.7 L1429.1 613.7 L1429.2 615.7 L1429.3 617.7 L1429.3 619.7 L1429.4 621.7 L1429.5 623.7 L1429.5 625.7 L1429.6 627.7 L1429.7 629.7 L1429.7 631.7 L1429.8 633.7 L1429.9 635.7 L1429.9 637.7 L1430.0 639.7 L1430.1 641.7 L1430.1 643.7 L1430.2 645.7 L1430.3 647.7 L1430.3 649.7 L1430.4 651.7 L1430.5 653.7 L1430.5 655.7 L1430.6 657.7 L1430.7 659.7 L1430.7 661.7 L1430.8 663.7 L1430.8 665.7 L1430.9 667.7 L1431.0 669.7 L1431.0 671.7 L1431.1 673.7 L1431.2 675.7 L1431.2 677.7 L1431.3 679.7 L1431.3 681.7 L1431.4 683.7 L1431.5 685.7 L1431.5 687.7 L1431.6 689.7 L1431.6 691.7 L1431.7 693.7 L1431.8 695.7 L1431.8 697.7 L1431.9 699.7 L1431.9 701.7 L1432.0 703.7 L1432.0 705.7 L1432.1 707.7 L1432.1 709.7 L1432.2 711.7 L1432.2 713.7 L1432.3 715.7 L1432.3 717.7 L1432.3 719.7 L1432.4 721.7 L1432.4 723.7 L1432.5 725.7 L1432.5 727.7 L1432.6 729.7 L1432.6 731.7 L1432.6 733.7 L1432.7 735.7 L1432.7 737.7 L1432.7 739.7 L1432.8 741.7 L1432.8 743.7 L1432.8 745.7 L1432.9 747.7 L1432.9 749.7 L1432.9 751.7 L1433.0 753.7 L1433.0 755.7 L1433.0 757.7 L1433.1 759.7 L1433.1 761.7 L1433.1 763.7 L1433.2 765.7 L1433.2 767.7 L1433.2 769.7 L1433.2 771.7 L1433.3 773.7 L1433.3 775.7 L1433.3 777.7 L1433.3 779.7 L1433.3 781.7 L1433.4 783.7 L1433.4 785.7 L1433.4 787.7 L1433.4 789.7 L1433.5 791.7 L1433.5 793.7 L1433.5 795.7 L1433.5 797.7 L1433.5 799.7 L1433.6 801.7 L1433.6 803.7 L1433.6 805.7 L1433.6 807.7 L1433.6 809.7 L1433.6 811.7 L1433.7 813.7 L1433.7 815.7 L1433.7 817.7 L1433.7 819.7 L1433.7 821.7 L1433.8 823.7 L1433.8 825.7 L1433.8 827.7 L1433.8 829.7 L1433.8 831.7 L1433.8 833.7 L1433.8 835.7 L1433.9 837.7 L1433.9 839.7 L1433.9 841.7 L1433.9 843.7 L1433.9 845.7 L1433.9 847.7 L1433.9 849.7 L1434.0 851.7 L1434.0 853.7 L1434.0 855.7 L1434.0 857.7 L1434.0 859.7 L1434.0 861.7 L1434.0 863.7 L1434.0 865.7 L1434.0 867.7 L1434.1 869.7 L1434.1 871.7 L1434.1 873.7 L1434.1 875.7 L1434.1 877.7 L1434.1 879.7 L1434.1 881.7 L1434.2 883.7 L1434.2 885.7 L1434.2 887.7 L1434.2 889.7 L1434.2 891.7 L1434.2 893.7 L1434.3 895.7 L1434.3 897.7 L1434.3 899.7 L1434.3 901.7 L1434.3 903.7 L1434.4 905.7 L1434.4 907.7 L1434.4 909.7 L1434.4 911.7 L1434.5 913.7 L1434.5 915.7 L1434.5 917.7 L1434.5 919.7 L1434.6 921.7 L1434.6 923.7 L1434.6 925.7 L1434.6 927.7 L1434.7 929.7 L1434.7 931.7 L1434.7 933.7 L1434.8 935.7 L1434.8 937.7 L1434.8 939.7 L1434.8 941.7 L1434.9 943.7 L1434.9 945.7 L1434.9 947.7 L1434.9 949.7 L1435.0 951.7 L1435.0 953.8" stroke="#F14040"/>
<path d="M245.0 1226.0 L245.1 1224.0 L245.2 1222.0 L245.4 1220.0 L245.5 1218.0 L245.6 1216.0 L245.7 1214.0 L245.9 1212.0 L246.0 1210.0 L246.1 1208.0 L246.2 1206.0 L246.3 1204.0 L246.5 1202.0 L246.6 1200.0 L246.7 1198.0 L246.8 1196.0 L246.9 1194.0 L247.0 1192.0 L247.1 1190.0 L247.3 1188.0 L247.4 1186.0 L247.5 1184.1 L247.6 1182.1 L247.7 1180.1 L247.8 1178.1 L247.9 1176.1 L248.0 1174.1 L248.1 1172.1 L248.2 1170.1 L248.4 1168.1 L248.5 1166.1 L248.6 1164.1 L248.7 1162.1 L248.8 1160.1 L248.9 1158.1 L249.1 1156.1 L249.2 1154.1 L249.3 1152.1 L249.4 1150.1 L249.5 1148.1 L249.7 1146.1 L249.8 1144.1 L249.9 1142.1 L250.1 1140.1 L250.2 1138.1 L250.3 1136.1 L250.5 1134.1 L250.6 1132.1 L250.8 1130.1 L250.9 1128.1 L251.0 1126.1 L251.2 1124.1 L251.3 1122.1 L251.5 1120.1 L251.6 1118.1 L251.8 1116.1 L251.9 1114.1 L252.1 1112.2 L252.2 1110.2 L252.4 1108.2 L252.5 1106.2 L252.7 1104.2 L252.8 1102.2 L253.0 1100.2 L253.1 1098.2 L253.3 1096.2 L253.4 1094.2 L253.6 1092.2 L253.7 1090.2 L253.9 1088.2 L254.0 1086.2 L254.2 1084.2 L254.3 1082.2 L254.5 1080.2 L254.6 1078.2 L254.8 1076.2 L254.9 1074.2 L255.1 1072.2 L255.2 1070.2 L255.4 1068.2 L255.5 1066.3 L255.7 1064.3 L255.9 1062.3 L256.0 1060.3 L256.2 1058.3 L256.3 1056.3 L256.5 1054.3 L256.7 1052.3 L256.9 1050.3 L257.0 1048.3 L257.2 1046.3 L257.4 1044.3 L257.6 1042.3 L257.8 1040.3 L258.0 1038.3 L258.2 1036.4 L258.4 1034.4 L258.6 1032.4 L258.8 1030.4 L259.0 1028.4 L259.2 1026.4 L259.5 1024.4 L259.7 1022.4 L259.9 1020.4 L260.1 1018.5 L260.4 1016.5 L260.6 1014.5 L260.9 1012.5 L261.1 1010.5 L261.3 1008.5 L261.6 1006.5 L261.8 1004.5 L262.1 1002.6 L262.3 1000.6 L262.6 998.6 L262.8 996.6 L263.1 994.6 L263.3 992.6 L263.6 990.6 L263.8 988.7 L264.1 986.7 L264.3 984.7 L264.6 982.7 L264.9 980.7 L265.1 978.7 L265.4 976.8 L265.6 974.8 L265.9 972.8 L266.2 970.8 L266.4 968.8 L266.7 966.8 L267.0 964.9 L267.2 962.9 L267.5 960.9 L267.8 958.9 L268.1 956.9 L268.3 954.9 L268.6 953.0 L268.9 951.0 L269.2 949.0 L269.5 947.0 L269.7 945.0 L270.0 943.1 L270.3 941.1 L270.6 939.1 L270.9 937.1 L271.2 935.1 L271.5 933.2 L271.8 931.2 L272.1 929.2 L272.4 927.2 L272.7 925.2 L273.0 923.3 L273.3 921.3 L273.7 919.3 L274.0 917.3 L274.3 915.4 L274.6 913.4 L275.0 911.4 L275.3 909.4 L275.6 907.5 L276.0 905.5 L276.3 903.5 L276.6 901.6 L277.0 899.6 L277.3 897.6 L277.7 895.6 L278.0 893.7 L278.4 891.7 L278.7 889.7 L279.1 887.8 L279.5 885.8 L279.8 883.8 L280.2 881.9 L280.6 879.9 L281.0 877.9 L281.3 876.0 L281.7 874.0 L282.1 872.0 L282.5 870.1 L282.9 868.1 L283.3 866.1 L283.6 864.2 L284.0 862.2 L284.4 860.3 L284.8 858.3 L285.2 856.3 L285.6 854.4 L286.0 852.4 L286.4 850.4 L286.9 848.5 L287.3 846.5 L287.7 844.6 L288.1 842.6 L288.5 840.7 L289.0 838.7 L289.4 836.8 L289.8 834.8 L290.3 832.8 L290.7 830.9 L291.1 828.9 L291.6 827.0 L292.0 825.0 L292.5 823.1 L292.9 821.1 L293.4 819.2 L293.9 817.3 L294.4 815.3 L294.8 813.4 L295.3 811.4 L295.8 809.5 L296.3 807.5 L296.8 805.6 L297.3 803.7 L297.8 801.7 L298.3 799.8 L298.8 797.8 L299.3 795.9 L299.8 794.0 L300.3 792.0 L300.8 790.1 L301.4 788.2 L301.9 786.2 L302.4 784.3 L303.0 782.4 L303.5 780.5 L304.0 778.5 L304.6 776.6 L305.2 774.7 L305.7 772.8 L306.3 770.8 L306.9 768.9 L307.4 767.0 L308.0 765.1 L308.6 763.2 L309.2 761.3 L309.8 759.4 L310.4 757.5 L310.9 755.5 L311.5 753.6 L312.1 751.7 L312.6 749.8 L313.2 747.8 L313.7 745.9 L314.3 744.0 L314.8 742.1 L315.4 740.2 L316.0 738.2 L316.6 736.3 L317.2 734.4 L317.7 732.5 L318.4 730.6 L319.0 728.7 L319.6 726.8 L320.3 724.9 L321.0 723.0 L321.6 721.1 L322.4 719.3 L323.1 717.4 L323.8 715.6 L324.6 713.7 L325.4 711.9 L326.2 710.0 L327.0 708.2 L327.9 706.4 L328.7 704.6 L329.6 702.8 L330.5 701.0 L331.4 699.2 L332.3 697.5 L333.3 695.7 L334.2 693.9 L335.2 692.2 L336.2 690.4 L337.2 688.7 L338.2 687.0 L339.2 685.2 L340.2 683.5 L341.2 681.8 L342.2 680.1 L343.3 678.4 L344.3 676.6 L345.3 674.9 L346.4 673.2 L347.4 671.5 L348.4 669.8 L349.4 668.1 L350.5 666.3 L351.5 664.6 L352.5 662.9 L353.6 661.2 L354.6 659.5 L355.6 657.8 L356.7 656.1 L357.7 654.4 L358.8 652.7 L359.9 651.0 L360.9 649.3 L362.0 647.6 L363.1 645.9 L364.2 644.3 L365.3 642.6 L366.4 640.9 L367.5 639.2 L368.6 637.5 L369.7 635.9 L370.8 634.2 L371.9 632.5 L372.9 630.8 L374.0 629.1 L375.1 627.4 L376.2 625.7 L377.3 624.1 L378.4 622.4 L379.6 620.8 L380.7 619.2 L381.9 617.6 L383.1 616.0 L384.4 614.5 L385.7 613.0 L387.0 611.5 L388.4 610.1 L389.8 608.7 L391.3 607.4 L392.8 606.1 L394.3 604.9 L395.8 603.6 L397.4 602.4 L399.0 601.3 L400.7 600.1 L402.3 598.9 L404.0 597.8 L405.6 596.7 L407.3 595.5 L408.9 594.4 L410.6 593.3 L412.2 592.1 L413.9 591.0 L415.5 589.9 L417.2 588.7 L418.9 587.6 L420.5 586.5 L422.2 585.4 L423.9 584.3 L425.5 583.2 L427.2 582.1 L428.9 581.0 L430.6 579.9 L432.3 578.8 L434.0 577.8 L435.7 576.8 L437.4 575.7 L439.2 574.8 L440.9 573.8 L442.7 572.9 L444.5 571.9 L446.2 571.1 L448.1 570.2 L449.9 569.4 L451.7 568.7 L453.6 568.0 L455.4 567.3 L457.3 566.6 L459.2 566.0 L461.1 565.5 L463.0 564.9 L465.0 564.4 L466.9 563.9 L468.8 563.3 L470.8 562.8 L472.7 562.3 L474.6 561.8 L476.6 561.3 L478.5 560.7 L480.4 560.2 L482.3 559.6 L484.2 559.0 L486.1 558.3 L488.0 557.7 L489.9 557.0 L491.8 556.3 L493.6 555.7 L495.5 555.0 L497.4 554.3 L499.3 553.6 L501.2 553.0 L503.1 552.4 L505.0 551.7 L506.9 551.1 L508.8 550.6 L510.7 550.0 L512.7 549.5 L514.6 549.0 L516.5 548.5 L518.5 548.1 L520.4 547.6 L522.4 547.2 L524.3 546.8 L526.3 546.4 L528.3 546.1 L530.3 545.7 L532.2 545.4 L534.2 545.1 L536.2 544.8 L538.2 544.5 L540.1 544.2 L542.1 544.0 L544.1 543.7 L546.1 543.4 L548.1 543.2 L550.1 543.0 L552.1 542.7 L554.1 542.5 L556.0 542.2 L558.0 542.0 L560.0 541.8 L562.0 541.5 L564.0 541.3 L566.0 541.0 L568.0 540.7 L569.9 540.4 L571.9 540.2 L573.9 539.9 L575.9 539.5 L577.8 539.2 L579.8 538.9 L581.8 538.5 L583.7 538.2 L585.7 537.8 L587.7 537.4 L589.6 537.0 L591.6 536.7 L593.6 536.3 L595.5 535.9 L597.5 535.5 L599.5 535.1 L601.4 534.7 L603.4 534.3 L605.3 533.9 L607.3 533.5 L609.3 533.1 L611.2 532.7 L613.2 532.3 L615.2 531.9 L617.1 531.5 L619.1 531.1 L621.0 530.8 L623.0 530.4 L625.0 530.0 L626.9 529.6 L628.9 529.2 L630.9 528.8 L632.8 528.4 L634.8 528.0 L636.7 527.6 L638.7 527.2 L640.7 526.8 L642.6 526.4 L644.6 526.0 L646.5 525.6 L648.5 525.2 L650.5 524.8 L652.4 524.4 L654.4 524.0 L656.3 523.6 L658.3 523.2 L660.3 522.8 L662.2 522.4 L664.2 522.1 L666.2 521.7 L668.1 521.3 L670.1 521.0 L672.1 520.6 L674.1 520.3 L676.0 519.9 L678.0 519.6 L680.0 519.3 L682.0 519.0 L683.9 518.6 L685.9 518.3 L687.9 518.0 L689.9 517.7 L691.8 517.4 L693.8 517.0 L695.8 516.7 L697.7 516.3 L699.7 516.0 L701.7 515.6 L703.6 515.2 L705.6 514.8 L707.5 514.4 L709.5 513.9 L711.4 513.5 L713.4 513.0 L715.3 512.6 L717.3 512.1 L719.2 511.6 L721.2 511.1 L723.1 510.6 L725.0 510.2 L727.0 509.7 L728.9 509.2 L730.9 508.7 L732.8 508.3 L734.8 507.8 L736.7 507.4 L738.7 506.9 L740.6 506.5 L742.6 506.1 L744.5 505.7 L746.5 505.2 L748.5 504.8 L750.4 504.4 L752.4 504.0 L754.3 503.6 L756.3 503.2 L758.3 502.8 L760.2 502.4 L762.2 502.0 L764.1 501.6 L766.1 501.2 L768.1 500.8 L770.0 500.4 L772.0 500.0 L773.9 499.5 L775.9 499.1 L777.9 498.7 L779.8 498.3 L781.8 497.9 L783.7 497.4 L785.7 497.0 L787.6 496.6 L789.6 496.2 L791.5 495.7 L793.5 495.3 L795.5 494.9 L797.4 494.5 L799.4 494.0 L801.3 493.6 L803.3 493.2 L805.2 492.8 L807.2 492.3 L809.1 491.9 L811.1 491.5 L813.1 491.0 L815.0 490.6 L817.0 490.2 L818.9 489.8 L820.9 489.4 L822.8 488.9 L824.8 488.5 L826.7 488.1 L828.7 487.7 L830.7 487.2 L832.6 486.8 L834.6 486.4 L836.5 485.9 L838.5 485.5 L840.4 485.1 L842.4 484.6 L844.3 484.2 L846.3 483.7 L848.2 483.3 L850.2 482.8 L852.1 482.4 L854.1 481.9 L856.0 481.4 L858.0 481.0 L859.9 480.5 L861.9 480.0 L863.8 479.5 L865.7 479.1 L867.7 478.6 L869.6 478.1 L871.6 477.6 L873.5 477.1 L875.4 476.6 L877.4 476.1 L879.3 475.6 L881.2 475.1 L883.2 474.5 L885.1 474.0 L887.0 473.5 L889.0 473.0 L890.9 472.4 L892.8 471.9 L894.8 471.4 L896.7 470.8 L898.6 470.3 L900.5 469.7 L902.5 469.2 L904.4 468.6 L906.3 467.9 L908.2 467.3 L910.1 466.7 L912.0 466.0 L913.9 465.4 L915.7 464.7 L917.6 464.1 L919.5 463.5 L921.5 462.9 L923.4 462.3 L925.3 461.8 L927.3 461.3 L929.2 460.9 L931.2 460.5 L933.2 460.2 L935.1 460.0 L937.1 459.8 L939.1 459.6 L941.1 459.4 L943.1 459.2 L945.1 458.9 L947.1 458.6 L949.0 458.3 L951.0 457.8 L952.9 457.4 L954.9 456.8 L956.8 456.3 L958.7 455.7 L960.6 455.1 L962.5 454.4 L964.4 453.8 L966.3 453.1 L968.2 452.4 L970.0 451.7 L971.9 451.0 L973.8 450.3 L975.6 449.5 L977.5 448.8 L979.3 448.0 L981.2 447.3 L983.1 446.5 L984.9 445.8 L986.8 445.0 L988.6 444.3 L990.5 443.5 L992.3 442.8 L994.2 442.0 L996.0 441.2 L997.8 440.3 L999.6 439.5 L1001.4 438.6 L1003.2 437.7 L1005.0 436.9 L1006.8 436.0 L1008.6 435.2 L1010.5 434.3 L1012.3 433.5 L1014.1 432.7 L1015.9 431.9 L1017.8 431.1 L1019.7 430.4 L1021.6 429.8 L1023.5 429.2 L1025.4 428.7 L1027.4 428.3 L1029.4 428.1 L1031.4 428.0 L1033.4 428.0 L1035.4 428.0 L1037.4 428.0 L1039.4 428.0 L1041.4 428.0 L1043.4 427.8 L1045.3 427.4 L1047.3 427.0 L1049.2 426.4 L1051.1 425.8 L1053.0 425.1 L1054.9 424.4 L1056.7 423.7 L1058.6 422.9 L1060.4 422.1 L1062.2 421.3 L1064.0 420.4 L1065.9 419.6 L1067.6 418.7 L1069.4 417.8 L1071.2 416.8 L1072.9 415.8 L1074.6 414.8 L1076.4 413.8 L1078.1 412.8 L1079.8 411.8 L1081.5 410.7 L1083.3 409.7 L1085.0 408.8 L1086.8 407.8 L1088.6 406.9 L1090.4 406.1 L1092.2 405.3 L1094.1 404.5 L1095.9 403.7 L1097.8 403.0 L1099.7 402.5 L1101.7 402.1 L1103.7 401.9 L1105.7 401.9 L1107.7 402.1 L1109.7 402.4 L1111.6 402.7 L1113.6 403.0 L1115.6 403.2 L1117.6 403.3 L1119.6 403.3 L1121.6 403.0 L1123.5 402.6 L1125.5 402.1 L1127.4 401.5 L1129.3 400.8 L1131.1 400.1 L1133.0 399.4 L1134.9 398.8 L1136.8 398.2 L1138.7 397.5 L1140.5 396.7 L1142.3 395.8 L1144.1 394.8 L1145.8 393.8 L1147.5 392.7 L1149.2 391.7 L1150.9 390.7 L1152.7 389.8 L1154.5 389.0 L1156.4 388.2 L1158.2 387.5 L1160.1 386.8 L1162.0 386.2 L1164.0 385.6 L1165.9 385.1 L1167.9 384.8 L1169.8 384.5 L1171.8 384.5 L1173.8 384.8 L1175.8 385.3 L1177.7 385.8 L1179.7 386.1 L1181.7 386.3 L1183.7 386.1 L1185.6 385.7 L1187.5 385.1 L1189.4 384.5 L1191.3 383.7 L1193.2 383.0 L1195.0 382.2 L1196.9 381.5 L1198.7 380.8 L1200.6 380.0 L1202.4 379.2 L1204.2 378.4 L1206.1 377.6 L1207.9 376.7 L1209.7 375.9 L1211.6 375.1 L1213.4 374.4 L1215.3 373.6 L1217.1 372.9 L1219.0 372.3 L1221.0 371.8 L1222.9 371.3 L1224.9 370.9 L1226.9 370.6 L1228.8 370.4 L1230.8 370.2 L1232.8 369.9 L1234.8 369.7 L1236.8 369.4 L1238.8 369.0 L1240.7 368.6 L1242.6 368.1 L1244.6 367.5 L1246.5 367.0 L1248.4 366.4 L1250.3 365.8 L1252.2 365.2 L1254.1 364.5 L1256.0 363.9 L1257.9 363.2 L1259.8 362.6 L1261.7 361.9 L1263.6 361.2 L1265.4 360.5 L1267.3 359.8 L1269.2 359.1 L1271.0 358.4 L1272.9 357.7 L1274.8 356.9 L1276.6 356.2 L1278.5 355.5 L1280.4 354.8 L1282.3 354.2 L1284.1 353.4 L1286.0 352.7 L1287.9 352.0 L1289.8 351.3 L1291.7 350.7 L1293.6 350.3 L1295.6 349.9 L1297.6 349.8 L1299.6 349.9 L1301.6 350.0 L1303.6 350.2 L1305.6 350.4 L1307.6 350.5 L1309.6 350.5 L1311.6 350.3 L1313.5 350.0 L1315.5 349.6 L1317.4 349.1 L1319.4 348.6 L1321.3 348.2 L1323.3 347.8 L1325.3 347.5 L1327.3 347.2 L1329.2 347.0 L1331.2 346.8 L1333.2 346.6 L1335.2 346.4 L1337.2 346.3 L1339.2 346.2 L1341.2 346.1 L1343.2 346.1 L1345.2 346.1 L1347.2 346.3 L1349.2 346.6 L1351.1 347.0 L1353.0 347.6 L1354.9 348.4 L1356.6 349.4 L1358.2 350.7 L1359.6 352.1 L1361.0 353.5 L1362.1 355.2 L1363.1 356.9 L1363.9 358.7 L1364.7 360.6 L1365.5 362.4 L1366.2 364.3 L1366.9 366.2 L1367.6 368.0 L1368.3 369.9 L1369.1 371.7 L1370.0 373.6 L1370.9 375.3 L1371.8 377.1 L1372.8 378.8 L1373.8 380.6 L1374.8 382.3 L1375.8 384.1 L1376.7 385.8 L1377.6 387.6 L1378.4 389.4 L1379.3 391.3 L1380.2 393.1 L1381.0 394.9 L1381.9 396.7 L1382.7 398.5 L1383.5 400.3 L1384.4 402.1 L1385.2 404.0 L1385.9 405.8 L1386.7 407.7 L1387.3 409.6 L1388.0 411.5 L1388.6 413.4 L1389.1 415.3 L1389.6 417.2 L1390.1 419.2 L1390.6 421.1 L1391.0 423.1 L1391.4 425.0 L1391.9 427.0 L1392.3 429.0 L1392.7 430.9 L1393.1 432.9 L1393.5 434.8 L1393.9 436.8 L1394.3 438.8 L1394.6 440.7 L1395.0 442.7 L1395.3 444.7 L1395.7 446.6 L1396.0 448.6 L1396.4 450.6 L1396.7 452.6 L1397.0 454.5 L1397.3 456.5 L1397.6 458.5 L1397.8 460.5 L1397.9 462.5 L1398.1 464.5 L1398.3 466.5 L1398.5 468.5 L1398.6 470.5 L1398.7 472.5 L1398.9 474.5 L1399.0 476.4 L1399.2 478.4 L1399.3 480.4 L1399.4 482.4 L1399.5 484.4 L1399.7 486.4 L1399.8 488.4 L1399.9 490.4 L1400.0 492.4 L1400.1 494.4 L1400.2 496.4 L1400.3 498.4 L1400.4 500.4 L1400.4 502.4 L1400.5 504.4 L1400.6 506.4 L1400.6 508.4 L1400.7 510.4 L1400.7 512.4 L1400.8 514.4 L1400.9 516.4 L1400.9 518.4 L1401.0 520.4 L1401.0 522.4 L1401.1 524.4 L1401.1 526.4 L1401.2 528.4 L1401.3 530.4 L1401.3 532.4 L1401.4 534.4 L1401.4 536.4 L1401.5 538.4 L1401.6 540.4 L1401.6 542.4 L1401.7 544.4 L1401.7 546.4 L1401.8 548.4 L1401.8 550.4 L1401.9 552.4 L1402.0 554.4 L1402.0 556.4 L1402.1 558.4 L1402.2 560.4 L1402.3 562.4 L1402.4 564.4 L1402.5 566.4 L1402.5 568.4 L1402.7 570.4 L1402.8 572.4 L1402.9 574.4 L1403.0 576.4 L1403.1 578.4 L1403.2 580.4 L1403.3 582.4 L1403.5 584.4 L1403.6 586.4 L1403.7 588.4 L1403.9 590.4 L1404.0 592.4 L1404.2 594.4 L1404.3 596.4 L1404.5 598.4 L1404.6 600.4 L1404.8 602.4 L1404.9 604.4 L1405.1 606.4 L1405.3 608.4 L1405.5 610.4 L1405.6 612.4 L1405.8 614.4 L1406.0 616.3 L1406.2 618.3 L1406.4 620.3 L1406.6 622.3 L1406.8 624.3 L1407.0 626.3 L1407.2 628.3 L1407.4 630.3 L1407.6 632.3 L1407.8 634.3 L1408.0 636.3 L1408.3 638.2 L1408.5 640.2 L1408.7 642.2 L1409.0 644.2 L1409.2 646.2 L1409.4 648.2 L1409.7 650.2 L1409.9 652.2 L1410.2 654.1 L1410.4 656.1 L1410.7 658.1 L1410.9 660.1 L1411.2 662.1 L1411.5 664.1 L1411.7 666.0 L1412.0 668.0 L1412.3 670.0 L1412.6 672.0 L1412.9 674.0 L1413.2 676.0 L1413.4 677.9 L1413.7 679.9 L1414.0 681.9 L1414.3 683.9 L1414.6 685.8 L1415.0 687.8 L1415.3 689.8 L1415.6 691.8 L1415.9 693.8 L1416.2 695.7 L1416.5 697.7 L1416.9 699.7 L1417.2 701.7 L1417.5 703.6 L1417.9 705.6 L1418.2 707.6 L1418.6 709.5 L1418.9 711.5 L1419.3 713.5 L1419.6 715.4 L1420.0 717.4 L1420.4 719.4 L1420.7 721.4 L1421.1 723.3 L1421.5 725.3 L1421.9 727.2 L1422.3 729.2 L1422.7 731.2 L1423.1 733.1 L1423.5 735.1 L1424.0 737.0 L1424.4 739.0 L1424.8 741.0 L1425.2 742.9 L1425.6 744.9 L1426.0 746.8 L1426.4 748.8 L1426.7 750.8 L1427.1 752.7 L1427.4 754.7 L1427.8 756.7 L1428.1 758.7 L1428.4 760.6 L1428.7 762.6 L1429.0 764.6 L1429.3 766.6 L1429.6 768.5 L1429.9 770.5 L1430.2 772.5 L1430.5 774.5 L1430.8 776.5 L1431.0 778.5 L1431.3 780.4 L1431.6 782.4 L1431.8 784.4 L1432.1 786.4 L1432.4 788.4 L1432.7 790.3 L1433.0 792.3 L1433.3 794.3 L1433.6 796.3 L1433.8 798.3 L1434.1 800.2 L1434.4 802.2 L1434.7 804.2 L1435.0 806.2 L1435.3 808.2 L1435.6 810.1 L1435.9 812.1 L1436.2 814.1 L1436.5 816.1 L1436.8 818.1 L1437.1 820.0 L1437.4 822.0 L1437.7 824.0 L1438.0 826.0 L1438.3 828.0 L1438.6 829.9 L1438.9 831.9 L1439.2 833.9 L1439.6 835.9 L1439.9 837.8 L1440.2 839.8 L1440.6 841.8 L1440.9 843.8 L1441.2 845.7 L1441.5 847.7 L1441.8 849.7 L1442.2 851.7 L1442.4 853.6 L1442.7 855.6 L1443.0 857.6 L1443.3 859.6 L1443.5 861.6 L1443.8 863.6 L1444.0 865.5 L1444.2 867.5 L1444.4 869.5 L1444.6 871.5 L1444.8 873.5 L1445.0 875.5 L1445.1 877.5 L1445.2 879.5 L1445.3 881.5 L1445.5 883.5 L1445.6 885.5 L1445.7 887.5 L1445.7 889.5 L1445.8 891.5 L1445.9 893.5 L1446.0 895.5 L1446.0 897.5 L1446.1 899.5 L1446.2 901.5 L1446.2 903.5 L1446.3 905.5 L1446.3 907.5 L1446.4 909.5 L1446.4 911.5 L1446.5 913.5 L1446.5 915.5 L1446.6 917.5 L1446.7 919.5 L1446.7 921.5 L1446.8 923.5 L1446.9 925.5 L1446.9 927.5 L1447.0 929.5" stroke="#1A6FDF"/>
<path d="M244.9 1226.0 L244.9 1224.0 L245.0 1222.0 L245.1 1220.0 L245.2 1218.0 L245.3 1216.0 L245.4 1214.0 L245.5 1212.0 L245.6 1210.0 L245.6 1208.0 L245.7 1206.0 L245.8 1204.0 L245.9 1202.0 L246.0 1200.0 L246.1 1198.0 L246.2 1196.0 L246.3 1194.0 L246.4 1192.0 L246.5 1190.0 L246.5 1188.0 L246.6 1186.0 L246.7 1184.0 L246.8 1182.0 L246.9 1180.0 L247.0 1178.0 L247.1 1176.0 L247.2 1174.0 L247.2 1172.0 L247.3 1170.0 L247.4 1168.0 L247.5 1166.0 L247.6 1164.0 L247.7 1162.0 L247.8 1160.0 L247.9 1158.0 L248.0 1156.0 L248.1 1154.0 L248.1 1152.0 L248.2 1150.0 L248.3 1148.0 L248.4 1146.0 L248.5 1144.0 L248.6 1142.0 L248.7 1140.0 L248.8 1138.0 L249.0 1136.0 L249.1 1134.0 L249.2 1132.0 L249.3 1130.0 L249.4 1128.0 L249.5 1126.1 L249.6 1124.1 L249.8 1122.1 L249.9 1120.1 L250.0 1118.1 L250.2 1116.1 L250.3 1114.1 L250.4 1112.1 L250.6 1110.1 L250.7 1108.1 L250.8 1106.1 L251.0 1104.1 L251.1 1102.1 L251.2 1100.1 L251.4 1098.1 L251.5 1096.1 L251.6 1094.1 L251.8 1092.1 L251.9 1090.1 L252.0 1088.1 L252.2 1086.1 L252.3 1084.1 L252.4 1082.1 L252.6 1080.1 L252.7 1078.1 L252.8 1076.1 L253.0 1074.2 L253.1 1072.2 L253.2 1070.2 L253.4 1068.2 L253.5 1066.2 L253.6 1064.2 L253.7 1062.2 L253.9 1060.2 L254.0 1058.2 L254.2 1056.2 L254.3 1054.2 L254.4 1052.2 L254.6 1050.2 L254.7 1048.2 L254.9 1046.2 L255.0 1044.2 L255.2 1042.2 L255.4 1040.2 L255.5 1038.2 L255.7 1036.2 L255.8 1034.2 L256.0 1032.2 L256.2 1030.2 L256.4 1028.3 L256.6 1026.3 L256.7 1024.3 L256.9 1022.3 L257.1 1020.3 L257.3 1018.3 L257.5 1016.3 L257.7 1014.3 L257.9 1012.3 L258.1 1010.3 L258.3 1008.3 L258.6 1006.4 L258.8 1004.4 L259.0 1002.4 L259.2 1000.4 L259.4 998.4 L259.6 996.4 L259.9 994.4 L260.1 992.4 L260.3 990.4 L260.5 988.4 L260.8 986.5 L261.0 984.5 L261.2 982.5 L261.5 980.5 L261.7 978.5 L261.9 976.5 L262.2 974.5 L262.4 972.5 L262.7 970.6 L262.9 968.6 L263.1 966.6 L263.4 964.6 L263.6 962.6 L263.9 960.6 L264.1 958.6 L264.4 956.7 L264.7 954.7 L264.9 952.7 L265.2 950.7 L265.5 948.7 L265.7 946.7 L266.0 944.8 L266.3 942.8 L266.5 940.8 L266.8 938.8 L267.1 936.8 L267.4 934.9 L267.7 932.9 L268.0 930.9 L268.3 928.9 L268.6 926.9 L268.9 925.0 L269.2 923.0 L269.5 921.0 L269.8 919.0 L270.1 917.0 L270.4 915.1 L270.8 913.1 L271.1 911.1 L271.4 909.2 L271.8 907.2 L272.1 905.2 L272.4 903.2 L272.8 901.3 L273.1 899.3 L273.5 897.3 L273.8 895.3 L274.2 893.4 L274.5 891.4 L274.9 889.4 L275.2 887.5 L275.6 885.5 L276.0 883.5 L276.3 881.6 L276.7 879.6 L277.1 877.6 L277.4 875.7 L277.8 873.7 L278.2 871.7 L278.6 869.8 L279.0 867.8 L279.3 865.8 L279.7 863.9 L280.1 861.9 L280.5 859.9 L280.9 858.0 L281.3 856.0 L281.7 854.1 L282.1 852.1 L282.5 850.1 L282.9 848.2 L283.3 846.2 L283.7 844.3 L284.2 842.3 L284.6 840.4 L285.0 838.4 L285.4 836.4 L285.8 834.5 L286.3 832.5 L286.7 830.6 L287.2 828.6 L287.6 826.7 L288.0 824.7 L288.5 822.8 L289.0 820.8 L289.4 818.9 L289.9 816.9 L290.3 815.0 L290.8 813.0 L291.3 811.1 L291.8 809.2 L292.3 807.2 L292.8 805.3 L293.2 803.3 L293.7 801.4 L294.3 799.5 L294.8 797.5 L295.3 795.6 L295.8 793.7 L296.3 791.7 L296.9 789.8 L297.4 787.9 L297.9 785.9 L298.5 784.0 L299.0 782.1 L299.6 780.2 L300.1 778.2 L300.7 776.3 L301.3 774.4 L301.8 772.5 L302.4 770.6 L303.0 768.6 L303.6 766.7 L304.2 764.8 L304.8 762.9 L305.4 761.0 L306.0 759.1 L306.6 757.2 L307.2 755.3 L307.9 753.4 L308.5 751.5 L309.1 749.6 L309.8 747.7 L310.4 745.8 L311.1 743.9 L311.7 742.0 L312.3 740.1 L313.0 738.2 L313.6 736.3 L314.3 734.4 L314.9 732.6 L315.6 730.7 L316.3 728.8 L317.0 726.9 L317.7 725.0 L318.3 723.1 L319.1 721.3 L319.8 719.4 L320.5 717.5 L321.3 715.7 L322.0 713.8 L322.8 712.0 L323.6 710.2 L324.4 708.3 L325.2 706.5 L326.1 704.7 L326.9 702.9 L327.8 701.1 L328.7 699.3 L329.6 697.5 L330.5 695.8 L331.5 694.0 L332.4 692.2 L333.4 690.5 L334.4 688.7 L335.4 687.0 L336.4 685.3 L337.4 683.5 L338.4 681.8 L339.4 680.1 L340.4 678.4 L341.4 676.6 L342.5 674.9 L343.5 673.2 L344.5 671.5 L345.6 669.8 L346.6 668.1 L347.7 666.3 L348.7 664.6 L349.8 663.0 L350.8 661.3 L351.9 659.6 L353.0 657.9 L354.2 656.3 L355.3 654.6 L356.4 653.0 L357.6 651.3 L358.8 649.7 L360.0 648.1 L361.2 646.5 L362.4 644.9 L363.6 643.4 L364.9 641.8 L366.1 640.2 L367.4 638.7 L368.6 637.1 L369.9 635.6 L371.2 634.1 L372.5 632.5 L373.8 631.0 L375.1 629.5 L376.5 628.0 L377.8 626.5 L379.1 625.0 L380.5 623.6 L381.9 622.1 L383.3 620.7 L384.6 619.2 L386.1 617.8 L387.5 616.4 L388.9 615.0 L390.4 613.6 L391.8 612.3 L393.3 610.9 L394.8 609.6 L396.4 608.3 L397.9 607.0 L399.4 605.8 L401.0 604.5 L402.6 603.3 L404.2 602.1 L405.8 601.0 L407.5 599.8 L409.1 598.7 L410.8 597.6 L412.5 596.5 L414.2 595.5 L415.9 594.4 L417.6 593.4 L419.4 592.5 L421.1 591.5 L422.9 590.6 L424.7 589.7 L426.5 588.8 L428.3 587.9 L430.1 587.0 L431.9 586.2 L433.7 585.3 L435.5 584.5 L437.4 583.7 L439.2 582.9 L441.0 582.1 L442.9 581.4 L444.7 580.6 L446.6 579.9 L448.5 579.1 L450.3 578.4 L452.2 577.7 L454.1 577.0 L456.0 576.3 L457.8 575.6 L459.7 575.0 L461.6 574.3 L463.5 573.7 L465.4 573.0 L467.3 572.4 L469.2 571.7 L471.1 571.1 L473.0 570.4 L474.9 569.8 L476.8 569.1 L478.6 568.5 L480.5 567.8 L482.4 567.1 L484.3 566.4 L486.2 565.7 L488.0 565.0 L489.9 564.3 L491.8 563.6 L493.6 562.9 L495.5 562.1 L497.4 561.4 L499.2 560.7 L501.1 559.9 L503.0 559.2 L504.8 558.5 L506.7 557.7 L508.5 557.0 L510.4 556.2 L512.3 555.5 L514.1 554.8 L516.0 554.0 L517.8 553.3 L519.7 552.5 L521.5 551.8 L523.4 551.1 L525.3 550.3 L527.1 549.6 L529.0 548.8 L530.9 548.1 L532.7 547.4 L534.6 546.6 L536.4 545.9 L538.3 545.2 L540.2 544.5 L542.0 543.7 L543.9 543.0 L545.8 542.3 L547.7 541.6 L549.5 540.9 L551.4 540.2 L553.3 539.6 L555.2 538.9 L557.1 538.2 L559.0 537.6 L560.8 536.9 L562.7 536.3 L564.6 535.6 L566.5 535.0 L568.4 534.3 L570.3 533.7 L572.2 533.1 L574.1 532.4 L576.0 531.8 L577.9 531.2 L579.8 530.6 L581.7 529.9 L583.6 529.3 L585.5 528.7 L587.4 528.1 L589.3 527.4 L591.2 526.8 L593.1 526.2 L595.0 525.5 L596.9 524.9 L598.8 524.2 L600.7 523.6 L602.6 522.9 L604.5 522.3 L606.4 521.6 L608.3 521.0 L610.2 520.3 L612.0 519.6 L613.9 519.0 L615.8 518.3 L617.7 517.6 L619.6 517.0 L621.5 516.3 L623.4 515.6 L625.2 514.9 L627.1 514.3 L629.0 513.6 L630.9 512.9 L632.8 512.2 L634.7 511.5 L636.5 510.9 L638.4 510.2 L640.3 509.5 L642.2 508.8 L644.1 508.1 L645.9 507.4 L647.8 506.7 L649.7 506.0 L651.6 505.4 L653.4 504.7 L655.3 504.0 L657.2 503.3 L659.1 502.6 L661.0 501.9 L662.8 501.2 L664.7 500.5 L666.6 499.8 L668.5 499.1 L670.3 498.4 L672.2 497.7 L674.1 497.0 L676.0 496.3 L677.8 495.6 L679.7 494.9 L681.6 494.2 L683.4 493.5 L685.3 492.7 L687.2 492.0 L689.0 491.3 L690.9 490.6 L692.8 489.8 L694.6 489.1 L696.5 488.4 L698.3 487.6 L700.2 486.8 L702.0 486.1 L703.9 485.3 L705.7 484.5 L707.6 483.8 L709.4 483.0 L711.3 482.2 L713.1 481.4 L714.9 480.6 L716.8 479.8 L718.6 479.0 L720.5 478.3 L722.3 477.5 L724.2 476.7 L726.0 475.9 L727.9 475.2 L729.7 474.4 L731.6 473.7 L733.4 472.9 L735.3 472.2 L737.2 471.5 L739.0 470.8 L740.9 470.1 L742.8 469.4 L744.6 468.7 L746.5 468.0 L748.4 467.3 L750.3 466.6 L752.1 465.9 L754.0 465.2 L755.9 464.5 L757.8 463.8 L759.6 463.1 L761.5 462.4 L763.4 461.7 L765.3 460.9 L767.1 460.2 L769.0 459.5 L770.8 458.7 L772.7 458.0 L774.6 457.2 L776.4 456.5 L778.3 455.7 L780.1 454.9 L781.9 454.2 L783.8 453.4 L785.6 452.6 L787.5 451.8 L789.3 451.0 L791.1 450.2 L793.0 449.4 L794.8 448.6 L796.6 447.8 L798.5 447.0 L800.3 446.1 L802.1 445.3 L803.9 444.5 L805.7 443.6 L807.5 442.7 L809.3 441.9 L811.1 441.0 L812.9 440.1 L814.7 439.2 L816.5 438.3 L818.3 437.4 L820.1 436.5 L821.8 435.6 L823.6 434.7 L825.4 433.7 L827.2 432.8 L828.9 431.9 L830.7 430.9 L832.5 430.0 L834.2 429.0 L836.0 428.1 L837.7 427.1 L839.5 426.2 L841.3 425.2 L843.0 424.3 L844.8 423.4 L846.6 422.4 L848.3 421.5 L850.1 420.6 L851.9 419.6 L853.7 418.7 L855.5 417.8 L857.2 416.9 L859.0 416.0 L860.8 415.1 L862.6 414.2 L864.4 413.3 L866.2 412.4 L868.0 411.5 L869.8 410.6 L871.6 409.7 L873.4 408.8 L875.2 408.0 L877.0 407.1 L878.8 406.3 L880.6 405.4 L882.4 404.6 L884.2 403.7 L886.0 402.9 L887.9 402.1 L889.7 401.3 L891.5 400.5 L893.4 399.7 L895.2 398.9 L897.0 398.1 L898.9 397.3 L900.7 396.6 L902.6 395.8 L904.4 395.0 L906.3 394.2 L908.1 393.4 L909.9 392.6 L911.7 391.8 L913.6 391.0 L915.4 390.1 L917.2 389.3 L919.0 388.4 L920.8 387.5 L922.6 386.6 L924.3 385.7 L926.1 384.8 L927.9 383.8 L929.7 382.9 L931.4 382.0 L933.2 381.0 L935.0 380.1 L936.7 379.1 L938.5 378.2 L940.3 377.3 L942.0 376.3 L943.8 375.4 L945.6 374.5 L947.3 373.5 L949.1 372.6 L950.9 371.7 L952.7 370.8 L954.5 369.9 L956.2 368.9 L958.0 368.0 L959.8 367.1 L961.6 366.2 L963.4 365.3 L965.1 364.4 L966.9 363.5 L968.7 362.5 L970.5 361.6 L972.3 360.7 L974.0 359.8 L975.8 358.9 L977.6 358.0 L979.4 357.0 L981.1 356.1 L982.9 355.2 L984.7 354.3 L986.5 353.3 L988.2 352.4 L990.0 351.5 L991.8 350.5 L993.5 349.6 L995.3 348.7 L997.1 347.7 L998.8 346.8 L1000.6 345.8 L1002.4 344.9 L1004.1 343.9 L1005.9 343.0 L1007.7 342.0 L1009.4 341.1 L1011.2 340.1 L1012.9 339.2 L1014.7 338.2 L1016.4 337.3 L1018.2 336.3 L1020.0 335.3 L1021.7 334.4 L1023.5 333.4 L1025.2 332.5 L1027.0 331.5 L1028.8 330.6 L1030.5 329.6 L1032.3 328.7 L1034.0 327.7 L1035.8 326.8 L1037.6 325.8 L1039.3 324.9 L1041.1 323.9 L1042.9 323.0 L1044.6 322.0 L1046.4 321.1 L1048.1 320.1 L1049.9 319.2 L1051.7 318.3 L1053.4 317.3 L1055.2 316.4 L1057.0 315.4 L1058.7 314.5 L1060.5 313.6 L1062.3 312.6 L1064.1 311.7 L1065.8 310.8 L1067.6 309.8 L1069.4 308.9 L1071.1 307.9 L1072.9 307.0 L1074.7 306.1 L1076.4 305.1 L1078.2 304.2 L1080.0 303.3 L1081.7 302.3 L1083.5 301.4 L1085.3 300.5 L1087.1 299.5 L1088.8 298.6 L1090.6 297.7 L1092.4 296.7 L1094.1 295.8 L1095.9 294.9 L1097.7 293.9 L1099.4 293.0 L1101.2 292.0 L1103.0 291.1 L1104.7 290.2 L1106.5 289.2 L1108.3 288.3 L1110.0 287.3 L1111.8 286.4 L1113.6 285.5 L1115.3 284.5 L1117.1 283.6 L1118.9 282.6 L1120.7 281.7 L1122.4 280.8 L1124.2 279.9 L1126.0 279.0 L1127.8 278.1 L1129.6 277.2 L1131.3 276.3 L1133.1 275.4 L1134.9 274.5 L1136.7 273.6 L1138.5 272.8 L1140.4 271.9 L1142.2 271.1 L1144.0 270.3 L1145.8 269.5 L1147.7 268.7 L1149.5 267.9 L1151.4 267.1 L1153.2 266.4 L1155.1 265.7 L1157.0 264.9 L1158.8 264.2 L1160.7 263.4 L1162.5 262.6 L1164.3 261.8 L1166.1 261.0 L1167.9 260.1 L1169.7 259.2 L1171.5 258.3 L1173.3 257.3 L1175.0 256.4 L1176.8 255.4 L1178.6 254.5 L1180.3 253.5 L1182.1 252.6 L1183.9 251.7 L1185.7 250.8 L1187.5 249.9 L1189.3 249.0 L1191.1 248.2 L1192.9 247.4 L1194.7 246.6 L1196.6 245.7 L1198.4 244.9 L1200.2 244.1 L1202.1 243.4 L1203.9 242.6 L1205.8 241.9 L1207.7 241.2 L1209.5 240.5 L1211.4 239.8 L1213.3 239.3 L1215.3 238.7 L1217.2 238.2 L1219.1 237.7 L1221.1 237.3 L1223.1 237.0 L1225.0 236.6 L1227.0 236.3 L1229.0 236.0 L1231.0 235.7 L1233.0 235.5 L1235.0 235.2 L1236.9 234.9 L1238.9 234.7 L1240.9 234.4 L1242.9 234.0 L1244.8 233.7 L1246.8 233.3 L1248.8 233.0 L1250.8 232.7 L1252.7 232.4 L1254.7 232.2 L1256.7 232.0 L1258.7 232.0 L1260.7 232.0 L1262.7 232.0 L1264.7 232.1 L1266.7 232.4 L1268.7 232.7 L1270.6 233.2 L1272.5 233.8 L1274.4 234.4 L1276.3 235.3 L1278.0 236.2 L1279.7 237.3 L1281.3 238.5 L1282.7 239.9 L1284.0 241.4 L1285.1 243.1 L1286.1 244.8 L1287.0 246.6 L1287.6 248.5 L1288.1 250.5 L1288.6 252.4 L1289.0 254.4 L1289.3 256.3 L1289.7 258.3 L1290.0 260.3 L1290.4 262.2 L1290.7 264.2 L1291.0 266.2 L1291.2 268.2 L1291.5 270.2 L1291.7 272.2 L1291.9 274.2 L1292.1 276.2 L1292.3 278.1 L1292.5 280.1 L1292.7 282.1 L1292.9 284.1 L1293.1 286.1 L1293.3 288.1 L1293.5 290.1 L1293.7 292.1 L1293.9 294.1 L1294.1 296.1 L1294.2 298.1 L1294.3 300.1 L1294.5 302.1 L1294.6 304.1 L1294.7 306.1 L1294.8 308.1 L1294.8 310.1 L1294.9 312.1 L1295.0 314.1 L1295.0 316.1 L1295.1 318.1 L1295.1 320.1 L1295.2 322.1 L1295.2 324.1 L1295.2 326.1 L1295.3 328.1 L1295.3 330.1 L1295.4 332.1 L1295.4 334.1 L1295.4 336.1 L1295.5 338.1 L1295.5 340.1 L1295.5 342.1 L1295.6 344.1 L1295.6 346.1 L1295.6 348.1 L1295.7 350.1 L1295.7 352.1 L1295.7 354.1 L1295.8 356.1 L1295.8 358.1 L1295.8 360.1 L1295.9 362.1 L1295.9 364.1 L1295.9 366.1 L1295.9 368.1 L1296.0 370.1 L1296.0 372.1 L1296.0 374.1 L1296.0 376.1 L1296.1 378.1 L1296.1 380.1 L1296.1 382.1 L1296.2 384.1 L1296.2 386.1 L1296.2 388.1 L1296.3 390.1 L1296.3 392.1 L1296.3 394.1 L1296.3 396.1 L1296.4 398.1 L1296.4 400.1 L1296.4 402.1 L1296.5 404.1 L1296.5 406.1 L1296.5 408.1 L1296.6 410.1 L1296.6 412.1 L1296.6 414.1 L1296.7 416.1 L1296.7 418.1 L1296.7 420.1 L1296.8 422.1 L1296.8 424.1 L1296.8 426.1 L1296.9 428.1 L1296.9 430.1 L1296.9 432.1 L1297.0 434.1 L1297.0 436.1 L1297.0 438.1 L1297.1 440.1 L1297.1 442.1 L1297.2 444.1 L1297.2 446.1 L1297.3 448.1 L1297.3 450.1 L1297.4 452.1 L1297.4 454.1 L1297.5 456.1 L1297.5 458.1 L1297.6 460.1 L1297.6 462.1 L1297.7 464.1 L1297.7 466.1 L1297.8 468.1 L1297.9 470.1 L1297.9 472.1 L1298.0 474.1 L1298.1 476.1 L1298.1 478.1 L1298.2 480.1 L1298.3 482.1 L1298.3 484.1 L1298.4 486.1 L1298.5 488.1 L1298.5 490.1 L1298.6 492.1 L1298.7 494.1 L1298.8 496.1 L1298.8 498.1 L1298.9 500.1 L1299.0 502.1 L1299.1 504.1 L1299.1 506.1 L1299.2 508.1 L1299.3 510.1 L1299.4 512.1 L1299.4 514.1 L1299.5 516.1 L1299.6 518.1 L1299.7 520.1 L1299.7 522.1 L1299.8 524.1 L1299.9 526.1 L1299.9 528.1 L1300.0 530.1 L1300.1 532.1 L1300.1 534.1 L1300.2 536.1 L1300.3 538.1 L1300.3 540.1 L1300.4 542.1 L1300.5 544.1 L1300.5 546.1 L1300.6 548.1 L1300.7 550.1 L1300.7 552.1 L1300.8 554.1 L1300.9 556.1 L1300.9 558.1 L1301.0 560.1 L1301.1 562.1 L1301.1 564.1 L1301.2 566.1 L1301.3 568.1 L1301.3 570.1 L1301.4 572.1 L1301.5 574.1 L1301.5 576.1 L1301.6 578.1 L1301.7 580.1 L1301.7 582.1 L1301.8 584.1 L1301.9 586.1 L1301.9 588.1 L1302.0 590.1 L1302.1 592.1 L1302.1 594.1 L1302.2 596.1 L1302.3 598.1 L1302.3 600.1 L1302.4 602.1 L1302.5 604.1 L1302.5 606.1 L1302.6 608.1 L1302.7 610.1 L1302.7 612.1 L1302.8 614.1 L1302.9 616.1 L1302.9 618.1 L1303.0 620.1 L1303.1 622.1 L1303.1 624.1 L1303.2 626.1 L1303.3 628.1 L1303.3 630.1 L1303.4 632.1 L1303.5 634.1 L1303.5 636.1 L1303.6 638.1 L1303.7 640.1 L1303.7 642.1 L1303.8 644.1 L1303.9 646.1 L1303.9 648.1 L1304.0 650.1 L1304.1 652.1 L1304.1 654.1 L1304.2 656.1 L1304.3 658.1 L1304.3 660.1 L1304.4 662.1 L1304.5 664.1 L1304.5 666.1 L1304.6 668.1 L1304.7 670.1 L1304.7 672.1 L1304.8 674.1 L1304.9 676.1 L1304.9 678.1 L1305.0 680.1 L1305.1 682.1 L1305.1 684.1 L1305.2 686.1 L1305.3 688.1 L1305.3 690.1 L1305.4 692.1 L1305.5 694.1 L1305.6 696.1 L1305.6 698.1 L1305.7 700.1 L1305.8 702.1 L1305.8 704.1 L1305.9 706.1 L1306.0 708.1 L1306.1 710.1 L1306.1 712.1 L1306.2 714.1 L1306.3 716.1 L1306.3 718.1 L1306.4 720.1 L1306.5 722.1 L1306.5 724.1 L1306.6 726.1 L1306.7 728.1 L1306.8 730.1 L1306.8 732.1 L1306.9 734.1 L1306.9 736.1 L1307.0 738.1 L1307.1 740.1 L1307.1 742.1 L1307.2 744.1 L1307.3 746.1 L1307.3 748.2 L1307.4 750.2 L1307.4 752.2 L1307.5 754.2 L1307.5 756.2 L1307.6 758.2 L1307.6 760.2 L1307.7 762.2 L1307.7 764.2 L1307.7 766.2 L1307.8 768.2 L1307.8 770.2 L1307.8 772.2 L1307.8 774.2 L1307.9 776.2 L1307.9 778.2 L1307.9 780.2 L1307.9 782.2 L1308.0 784.2 L1308.0 786.2 L1308.0 788.2 L1308.0 790.2 L1308.0 792.2 L1308.1 794.2 L1308.1 796.2 L1308.1 798.2 L1308.1 800.2 L1308.2 802.2 L1308.2 804.2 L1308.2 806.2 L1308.3 808.2 L1308.3 810.2 L1308.4 812.2 L1308.4 814.2 L1308.5 816.2 L1308.6 818.2 L1308.6 820.2 L1308.7 822.2 L1308.8 824.2 L1308.9 826.2 L1309.0 828.2 L1309.1 830.2 L1309.2 832.2 L1309.3 834.2 L1309.5 836.2 L1309.6 838.2 L1309.7 840.2 L1309.9 842.2 L1310.0 844.2 L1310.2 846.2 L1310.3 848.1 L1310.5 850.1 L1310.6 852.1 L1310.8 854.1 L1311.0 856.1 L1311.1 858.1 L1311.3 860.1 L1311.4 862.1 L1311.6 864.1 L1311.7 866.1 L1311.9 868.1 L1312.0 870.1 L1312.1 872.1 L1312.3 874.1 L1312.4 876.1 L1312.6 878.1 L1312.7 880.1 L1312.8 882.1 L1313.0 884.1 L1313.1 886.1 L1313.2 888.1 L1313.4 890.1 L1313.5 892.1 L1313.7 894.1 L1313.8 896.1 L1313.9 898.1 L1314.1 900.0 L1314.2 902.0 L1314.3 904.0 L1314.5 906.0 L1314.6 908.0 L1314.8 910.0 L1314.9 912.0 L1315.0 914.0 L1315.2 916.0 L1315.3 918.0 L1315.4 920.0 L1315.6 922.0 L1315.7 924.0 L1315.9 926.0 L1316.0 928.0" stroke="#37AD6B"/>
<path d="M244.9 1226.0 L245.0 1224.0 L245.0 1222.0 L245.1 1220.0 L245.2 1218.0 L245.3 1216.0 L245.4 1214.0 L245.5 1212.0 L245.6 1210.0 L245.6 1208.0 L245.7 1206.0 L245.8 1204.0 L245.9 1202.0 L246.0 1200.0 L246.1 1198.0 L246.1 1196.0 L246.2 1194.0 L246.3 1192.0 L246.4 1190.0 L246.5 1188.0 L246.6 1186.0 L246.6 1184.0 L246.7 1182.0 L246.8 1180.0 L246.9 1178.0 L247.0 1176.0 L247.1 1174.0 L247.1 1172.0 L247.2 1170.0 L247.3 1168.0 L247.4 1166.0 L247.5 1164.0 L247.5 1162.0 L247.6 1160.0 L247.7 1158.0 L247.8 1156.0 L247.9 1154.0 L248.0 1152.0 L248.0 1150.0 L248.1 1148.0 L248.2 1146.0 L248.3 1144.0 L248.4 1142.0 L248.5 1140.0 L248.6 1138.0 L248.7 1136.0 L248.8 1134.0 L248.9 1132.0 L249.0 1130.0 L249.1 1128.0 L249.2 1126.0 L249.3 1124.0 L249.4 1122.0 L249.5 1120.0 L249.6 1118.0 L249.7 1116.0 L249.8 1114.0 L249.9 1112.0 L250.0 1110.0 L250.1 1108.0 L250.2 1106.0 L250.3 1104.0 L250.4 1102.0 L250.6 1100.0 L250.7 1098.0 L250.8 1096.0 L250.9 1094.0 L251.0 1092.0 L251.1 1090.0 L251.2 1088.0 L251.3 1086.0 L251.4 1084.0 L251.5 1082.0 L251.6 1080.1 L251.7 1078.1 L251.8 1076.1 L251.9 1074.1 L252.0 1072.1 L252.1 1070.1 L252.2 1068.1 L252.2 1066.1 L252.3 1064.1 L252.4 1062.1 L252.5 1060.1 L252.6 1058.1 L252.7 1056.1 L252.8 1054.1 L253.0 1052.1 L253.1 1050.1 L253.2 1048.1 L253.3 1046.1 L253.4 1044.1 L253.5 1042.1 L253.7 1040.1 L253.8 1038.1 L253.9 1036.1 L254.0 1034.1 L254.2 1032.1 L254.3 1030.1 L254.5 1028.1 L254.6 1026.1 L254.7 1024.1 L254.9 1022.1 L255.0 1020.1 L255.2 1018.1 L255.3 1016.1 L255.5 1014.1 L255.7 1012.1 L255.8 1010.1 L256.0 1008.1 L256.1 1006.1 L256.3 1004.2 L256.4 1002.2 L256.6 1000.2 L256.8 998.2 L256.9 996.2 L257.1 994.2 L257.2 992.2 L257.4 990.2 L257.5 988.2 L257.7 986.2 L257.9 984.2 L258.0 982.2 L258.2 980.2 L258.3 978.2 L258.5 976.2 L258.6 974.2 L258.8 972.2 L258.9 970.2 L259.1 968.2 L259.3 966.2 L259.4 964.2 L259.6 962.3 L259.7 960.3 L259.9 958.3 L260.1 956.3 L260.2 954.3 L260.4 952.3 L260.6 950.3 L260.8 948.3 L261.0 946.3 L261.1 944.3 L261.3 942.3 L261.5 940.3 L261.7 938.3 L261.9 936.3 L262.1 934.3 L262.3 932.4 L262.5 930.4 L262.7 928.4 L263.0 926.4 L263.2 924.4 L263.4 922.4 L263.6 920.4 L263.9 918.4 L264.1 916.4 L264.3 914.5 L264.6 912.5 L264.8 910.5 L265.0 908.5 L265.3 906.5 L265.5 904.5 L265.8 902.5 L266.0 900.6 L266.3 898.6 L266.5 896.6 L266.8 894.6 L267.1 892.6 L267.3 890.6 L267.6 888.6 L267.8 886.7 L268.1 884.7 L268.4 882.7 L268.6 880.7 L268.9 878.7 L269.2 876.7 L269.4 874.8 L269.7 872.8 L270.0 870.8 L270.3 868.8 L270.6 866.8 L270.8 864.8 L271.1 862.9 L271.4 860.9 L271.7 858.9 L272.0 856.9 L272.3 854.9 L272.6 853.0 L272.9 851.0 L273.2 849.0 L273.5 847.0 L273.8 845.0 L274.1 843.1 L274.4 841.1 L274.7 839.1 L275.0 837.1 L275.3 835.2 L275.6 833.2 L276.0 831.2 L276.3 829.2 L276.6 827.3 L276.9 825.3 L277.3 823.3 L277.6 821.3 L278.0 819.4 L278.3 817.4 L278.6 815.4 L279.0 813.4 L279.3 811.5 L279.7 809.5 L280.0 807.5 L280.4 805.6 L280.8 803.6 L281.1 801.6 L281.5 799.7 L281.9 797.7 L282.3 795.7 L282.6 793.8 L283.0 791.8 L283.4 789.8 L283.8 787.9 L284.2 785.9 L284.6 784.0 L285.0 782.0 L285.4 780.0 L285.8 778.1 L286.2 776.1 L286.6 774.1 L287.0 772.2 L287.4 770.2 L287.8 768.3 L288.3 766.3 L288.7 764.4 L289.1 762.4 L289.5 760.5 L290.0 758.5 L290.4 756.5 L290.8 754.6 L291.3 752.6 L291.7 750.7 L292.2 748.7 L292.6 746.8 L293.1 744.8 L293.5 742.9 L294.0 740.9 L294.4 739.0 L294.9 737.0 L295.3 735.1 L295.8 733.1 L296.2 731.2 L296.7 729.2 L297.2 727.3 L297.6 725.3 L298.1 723.4 L298.6 721.5 L299.0 719.5 L299.5 717.6 L300.0 715.6 L300.5 713.7 L301.0 711.7 L301.5 709.8 L302.0 707.9 L302.5 705.9 L303.0 704.0 L303.6 702.1 L304.1 700.1 L304.6 698.2 L305.2 696.3 L305.7 694.4 L306.3 692.4 L306.8 690.5 L307.4 688.6 L307.9 686.7 L308.5 684.7 L309.0 682.8 L309.6 680.9 L310.2 679.0 L310.7 677.0 L311.3 675.1 L311.8 673.2 L312.4 671.3 L312.9 669.4 L313.5 667.4 L314.0 665.5 L314.6 663.6 L315.1 661.7 L315.7 659.7 L316.3 657.8 L316.8 655.9 L317.4 654.0 L318.0 652.1 L318.6 650.2 L319.2 648.3 L319.8 646.4 L320.5 644.5 L321.1 642.6 L321.7 640.7 L322.4 638.8 L323.1 636.9 L323.7 635.0 L324.4 633.1 L325.1 631.2 L325.8 629.4 L326.5 627.5 L327.2 625.6 L327.9 623.7 L328.6 621.9 L329.4 620.0 L330.1 618.2 L330.9 616.3 L331.6 614.4 L332.4 612.6 L333.2 610.7 L333.9 608.9 L334.7 607.1 L335.5 605.2 L336.3 603.4 L337.1 601.5 L337.9 599.7 L338.7 597.9 L339.5 596.0 L340.3 594.2 L341.2 592.4 L342.0 590.6 L342.8 588.8 L343.7 587.0 L344.5 585.1 L345.4 583.3 L346.3 581.5 L347.2 579.7 L348.1 578.0 L349.0 576.2 L349.9 574.4 L350.8 572.6 L351.8 570.9 L352.7 569.1 L353.7 567.3 L354.7 565.6 L355.6 563.8 L356.6 562.1 L357.6 560.4 L358.6 558.6 L359.7 556.9 L360.7 555.2 L361.7 553.5 L362.8 551.8 L363.8 550.1 L364.9 548.4 L366.0 546.7 L367.1 545.0 L368.2 543.4 L369.3 541.7 L370.5 540.1 L371.6 538.4 L372.8 536.8 L374.0 535.2 L375.2 533.6 L376.4 532.0 L377.7 530.5 L379.0 528.9 L380.3 527.4 L381.6 525.9 L382.9 524.5 L384.3 523.0 L385.7 521.6 L387.1 520.2 L388.5 518.8 L390.0 517.4 L391.5 516.1 L393.0 514.7 L394.4 513.4 L396.0 512.1 L397.5 510.8 L399.0 509.5 L400.5 508.1 L402.0 506.8 L403.5 505.5 L405.0 504.2 L406.5 502.9 L408.0 501.6 L409.6 500.2 L411.1 498.9 L412.6 497.6 L414.1 496.4 L415.7 495.1 L417.2 493.9 L418.8 492.6 L420.4 491.4 L422.0 490.3 L423.7 489.1 L425.3 488.0 L427.0 486.9 L428.7 485.9 L430.4 484.8 L432.1 483.8 L433.9 482.9 L435.6 481.9 L437.4 481.0 L439.2 480.1 L441.0 479.2 L442.8 478.3 L444.6 477.5 L446.4 476.6 L448.2 475.8 L450.0 474.9 L451.9 474.1 L453.7 473.3 L455.5 472.5 L457.3 471.7 L459.2 470.9 L461.0 470.0 L462.8 469.2 L464.7 468.4 L466.5 467.6 L468.3 466.8 L470.2 466.0 L472.0 465.2 L473.9 464.4 L475.7 463.7 L477.5 462.9 L479.4 462.1 L481.2 461.4 L483.1 460.6 L485.0 459.9 L486.8 459.2 L488.7 458.5 L490.6 457.8 L492.5 457.1 L494.4 456.5 L496.2 455.8 L498.1 455.2 L500.0 454.6 L502.0 454.0 L503.9 453.3 L505.8 452.7 L507.7 452.1 L509.6 451.5 L511.5 450.9 L513.4 450.3 L515.3 449.7 L517.2 449.1 L519.1 448.4 L521.0 447.8 L522.9 447.2 L524.8 446.6 L526.7 446.0 L528.6 445.4 L530.5 444.8 L532.5 444.2 L534.4 443.7 L536.3 443.1 L538.2 442.6 L540.2 442.1 L542.1 441.6 L544.0 441.2 L546.0 440.7 L547.9 440.3 L549.9 439.8 L551.9 439.4 L553.8 439.0 L555.8 438.6 L557.7 438.1 L559.7 437.7 L561.6 437.3 L563.6 436.8 L565.5 436.3 L567.4 435.8 L569.4 435.3 L571.3 434.8 L573.2 434.2 L575.1 433.7 L577.1 433.1 L579.0 432.5 L580.9 431.8 L582.8 431.2 L584.7 430.6 L586.6 430.0 L588.5 429.3 L590.4 428.7 L592.3 428.1 L594.2 427.5 L596.1 426.9 L598.0 426.3 L599.9 425.7 L601.8 425.2 L603.7 424.6 L605.7 424.1 L607.6 423.6 L609.5 423.0 L611.5 422.5 L613.4 422.0 L615.3 421.5 L617.3 420.9 L619.2 420.4 L621.1 419.8 L623.0 419.3 L624.9 418.7 L626.9 418.1 L628.8 417.5 L630.7 416.9 L632.6 416.3 L634.5 415.7 L636.4 415.0 L638.3 414.4 L640.2 413.8 L642.1 413.1 L644.0 412.5 L645.9 411.9 L647.8 411.3 L649.7 410.6 L651.6 410.0 L653.5 409.4 L655.4 408.8 L657.3 408.2 L659.2 407.6 L661.1 407.0 L663.0 406.4 L664.9 405.8 L666.8 405.1 L668.7 404.5 L670.6 403.8 L672.5 403.2 L674.4 402.5 L676.3 401.8 L678.1 401.1 L680.0 400.4 L681.9 399.7 L683.8 399.0 L685.6 398.3 L687.5 397.6 L689.4 397.0 L691.3 396.3 L693.1 395.6 L695.0 394.9 L696.9 394.3 L698.8 393.6 L700.7 393.0 L702.6 392.4 L704.5 391.7 L706.4 391.1 L708.3 390.5 L710.2 389.9 L712.2 389.3 L714.1 388.7 L716.0 388.1 L717.9 387.5 L719.8 386.9 L721.7 386.3 L723.6 385.7 L725.5 385.1 L727.4 384.5 L729.3 383.9 L731.2 383.3 L733.1 382.7 L735.0 382.0 L736.9 381.4 L738.8 380.8 L740.7 380.1 L742.6 379.5 L744.5 378.8 L746.4 378.2 L748.3 377.5 L750.2 376.9 L752.1 376.2 L754.0 375.5 L755.8 374.8 L757.7 374.2 L759.6 373.5 L761.5 372.8 L763.4 372.1 L765.3 371.4 L767.1 370.7 L769.0 370.0 L770.9 369.3 L772.8 368.6 L774.6 367.9 L776.5 367.2 L778.4 366.5 L780.2 365.7 L782.1 365.0 L783.9 364.3 L785.8 363.5 L787.7 362.8 L789.5 362.0 L791.4 361.2 L793.2 360.5 L795.0 359.7 L796.9 358.9 L798.7 358.1 L800.6 357.3 L802.4 356.5 L804.2 355.7 L806.0 354.9 L807.9 354.0 L809.7 353.2 L811.5 352.4 L813.3 351.5 L815.1 350.7 L817.0 349.9 L818.8 349.0 L820.6 348.2 L822.4 347.4 L824.2 346.5 L826.1 345.7 L827.9 344.9 L829.7 344.1 L831.5 343.2 L833.4 342.4 L835.2 341.6 L837.0 340.8 L838.9 340.0 L840.7 339.3 L842.6 338.5 L844.4 337.7 L846.3 336.9 L848.1 336.2 L850.0 335.4 L851.8 334.7 L853.7 333.9 L855.5 333.2 L857.4 332.4 L859.3 331.7 L861.1 331.0 L863.0 330.2 L864.8 329.5 L866.7 328.8 L868.6 328.0 L870.4 327.3 L872.3 326.6 L874.1 325.8 L876.0 325.1 L877.9 324.3 L879.7 323.6 L881.6 322.8 L883.4 322.0 L885.3 321.3 L887.1 320.5 L888.9 319.7 L890.8 318.9 L892.6 318.1 L894.5 317.4 L896.3 316.6 L898.1 315.8 L900.0 314.9 L901.8 314.1 L903.6 313.3 L905.5 312.5 L907.3 311.7 L909.1 310.9 L910.9 310.0 L912.7 309.2 L914.6 308.4 L916.4 307.5 L918.2 306.7 L920.0 305.8 L921.8 305.0 L923.6 304.1 L925.5 303.3 L927.3 302.4 L929.1 301.6 L930.9 300.7 L932.7 299.9 L934.5 299.0 L936.3 298.1 L938.1 297.2 L939.9 296.4 L941.7 295.5 L943.5 294.6 L945.3 293.7 L947.1 292.8 L948.8 291.9 L950.6 291.0 L952.4 290.1 L954.2 289.2 L956.0 288.3 L957.8 287.4 L959.6 286.5 L961.3 285.6 L963.1 284.6 L964.9 283.7 L966.7 282.8 L968.4 281.9 L970.2 280.9 L972.0 280.0 L973.7 279.0 L975.5 278.1 L977.3 277.2 L979.0 276.2 L980.8 275.3 L982.6 274.3 L984.3 273.3 L986.1 272.4 L987.8 271.4 L989.6 270.4 L991.3 269.5 L993.1 268.5 L994.8 267.5 L996.6 266.5 L998.3 265.5 L1000.0 264.5 L1001.8 263.6 L1003.5 262.6 L1005.2 261.6 L1007.0 260.6 L1008.7 259.6 L1010.4 258.5 L1012.2 257.5 L1013.9 256.5 L1015.6 255.5 L1017.3 254.5 L1019.1 253.5 L1020.8 252.4 L1022.5 251.4 L1024.2 250.4 L1025.9 249.3 L1027.6 248.3 L1029.3 247.2 L1031.0 246.2 L1032.7 245.1 L1034.4 244.1 L1036.1 243.0 L1037.8 242.0 L1039.5 240.9 L1041.2 239.8 L1042.9 238.7 L1044.6 237.7 L1046.3 236.6 L1047.9 235.5 L1049.6 234.4 L1051.3 233.3 L1053.0 232.2 L1054.6 231.1 L1056.3 230.0 L1058.0 228.8 L1059.6 227.7 L1061.3 226.6 L1062.9 225.5 L1064.6 224.4 L1066.2 223.2 L1067.9 222.1 L1069.5 221.0 L1071.2 219.9 L1072.8 218.7 L1074.5 217.6 L1076.1 216.5 L1077.8 215.3 L1079.4 214.2 L1081.1 213.0 L1082.7 211.9 L1084.4 210.8 L1086.0 209.6 L1087.7 208.5 L1089.3 207.4 L1091.0 206.2 L1092.6 205.1 L1094.3 204.0 L1095.9 202.8 L1097.6 201.7 L1099.2 200.5 L1100.9 199.4 L1102.5 198.3 L1104.2 197.1 L1105.8 196.0 L1107.5 194.9 L1109.1 193.7 L1110.7 192.6 L1112.4 191.4 L1114.0 190.3 L1115.7 189.1 L1117.3 188.0 L1119.0 186.9 L1120.6 185.7 L1122.2 184.6 L1123.9 183.4 L1125.5 182.3 L1127.1 181.1 L1128.8 180.0 L1130.4 178.8 L1132.1 177.6 L1133.7 176.5 L1135.3 175.3 L1136.9 174.2 L1138.6 173.0 L1140.2 171.8 L1141.8 170.7 L1143.4 169.5 L1145.1 168.3 L1146.7 167.1 L1148.3 166.0 L1149.9 164.8 L1151.5 163.6 L1153.1 162.4 L1154.8 161.2 L1156.4 160.0 L1158.0 158.9 L1159.6 157.7 L1161.2 156.5 L1162.9 155.3 L1164.5 154.2 L1166.1 153.0 L1167.7 151.8 L1169.4 150.7 L1171.0 149.5 L1172.6 148.3 L1174.2 147.2 L1175.9 146.0 L1177.5 144.8 L1179.1 143.7 L1180.8 142.5 L1182.4 141.4 L1184.1 140.2 L1185.7 139.1 L1187.4 138.0 L1189.0 136.8 L1190.7 135.7 L1192.3 134.6 L1194.0 133.5 L1195.6 132.3 L1197.3 131.2 L1198.9 130.0 L1200.6 128.9 L1202.3 127.9 L1204.0 126.8 L1205.7 125.9 L1207.5 125.0 L1209.3 124.1 L1211.2 123.3 L1213.0 122.6 L1214.9 122.0 L1216.9 121.4 L1218.8 120.9 L1220.7 120.5 L1222.7 120.1 L1224.7 120.0 L1226.7 120.1 L1228.7 120.3 L1230.7 120.6 L1232.6 121.1 L1234.5 121.8 L1236.3 122.6 L1238.1 123.6 L1239.7 124.7 L1241.2 126.1 L1242.5 127.6 L1243.6 129.2 L1244.5 131.0 L1245.2 132.9 L1245.8 134.8 L1246.4 136.7 L1247.0 138.6 L1247.7 140.5 L1248.3 142.4 L1248.9 144.3 L1249.5 146.2 L1250.1 148.2 L1250.6 150.1 L1251.1 152.0 L1251.6 154.0 L1252.1 155.9 L1252.6 157.8 L1253.0 159.8 L1253.4 161.8 L1253.8 163.7 L1254.2 165.7 L1254.6 167.7 L1254.9 169.6 L1255.3 171.6 L1255.6 173.6 L1255.9 175.5 L1256.3 177.5 L1256.6 179.5 L1256.9 181.5 L1257.1 183.5 L1257.4 185.4 L1257.7 187.4 L1257.9 189.4 L1258.2 191.4 L1258.4 193.4 L1258.7 195.4 L1258.9 197.4 L1259.1 199.3 L1259.4 201.3 L1259.6 203.3 L1259.8 205.3 L1260.0 207.3 L1260.3 209.3 L1260.5 211.3 L1260.7 213.3 L1260.9 215.3 L1261.1 217.3 L1261.3 219.2 L1261.5 221.2 L1261.6 223.2 L1261.8 225.2 L1262.0 227.2 L1262.1 229.2 L1262.3 231.2 L1262.4 233.2 L1262.6 235.2 L1262.7 237.2 L1262.8 239.2 L1262.9 241.2 L1263.0 243.2 L1263.2 245.2 L1263.3 247.2 L1263.4 249.2 L1263.5 251.2 L1263.6 253.2 L1263.7 255.2 L1263.8 257.2 L1263.9 259.2 L1264.0 261.2 L1264.1 263.2 L1264.3 265.2 L1264.4 267.2 L1264.5 269.2 L1264.6 271.2 L1264.7 273.2 L1264.8 275.2 L1264.9 277.2 L1265.1 279.2 L1265.2 281.2 L1265.3 283.2 L1265.4 285.2 L1265.5 287.2 L1265.6 289.2 L1265.7 291.2 L1265.8 293.2 L1265.9 295.2 L1266.0 297.2 L1266.1 299.2 L1266.2 301.2 L1266.3 303.2 L1266.4 305.2 L1266.4 307.2 L1266.5 309.2 L1266.6 311.2 L1266.7 313.2 L1266.8 315.2 L1266.8 317.2 L1266.9 319.2 L1267.0 321.2 L1267.0 323.2 L1267.1 325.2 L1267.2 327.2 L1267.2 329.2 L1267.3 331.2 L1267.3 333.2 L1267.4 335.2 L1267.4 337.2 L1267.5 339.2 L1267.5 341.2 L1267.6 343.2 L1267.6 345.2 L1267.7 347.2 L1267.7 349.2 L1267.7 351.2 L1267.8 353.2 L1267.8 355.2 L1267.8 357.2 L1267.9 359.2 L1267.9 361.2 L1267.9 363.2 L1268.0 365.2 L1268.0 367.2 L1268.0 369.2 L1268.0 371.2 L1268.1 373.2 L1268.1 375.2 L1268.1 377.2 L1268.1 379.2 L1268.2 381.2 L1268.2 383.2 L1268.2 385.2 L1268.2 387.2 L1268.2 389.2 L1268.3 391.2 L1268.3 393.2 L1268.3 395.2 L1268.3 397.2 L1268.3 399.2 L1268.4 401.2 L1268.4 403.2 L1268.4 405.2 L1268.4 407.2 L1268.4 409.2 L1268.5 411.2 L1268.5 413.2 L1268.5 415.2 L1268.5 417.2 L1268.5 419.2 L1268.5 421.2 L1268.5 423.2 L1268.6 425.2 L1268.6 427.2 L1268.6 429.2 L1268.6 431.2 L1268.6 433.2 L1268.6 435.2 L1268.6 437.2 L1268.6 439.2 L1268.7 441.2 L1268.7 443.2 L1268.7 445.2 L1268.7 447.2 L1268.7 449.2 L1268.7 451.2 L1268.7 453.3 L1268.7 455.3 L1268.7 457.3 L1268.7 459.3 L1268.8 461.3 L1268.8 463.3 L1268.8 465.3 L1268.8 467.3 L1268.8 469.3 L1268.8 471.3 L1268.8 473.3 L1268.8 475.3 L1268.8 477.3 L1268.8 479.3 L1268.8 481.3 L1268.8 483.3 L1268.8 485.3 L1268.8 487.3 L1268.8 489.3 L1268.8 491.3 L1268.8 493.3 L1268.9 495.3 L1268.9 497.3 L1268.9 499.3 L1268.9 501.3 L1268.9 503.3 L1268.9 505.3 L1268.9 507.3 L1268.9 509.3 L1268.9 511.3 L1268.9 513.3 L1268.9 515.3 L1268.9 517.3 L1268.9 519.3 L1268.9 521.3 L1268.9 523.3 L1268.9 525.3 L1268.9 527.3 L1268.9 529.3 L1268.9 531.3 L1268.9 533.3 L1268.9 535.3 L1268.9 537.3 L1268.9 539.3 L1268.9 541.3 L1268.9 543.3 L1268.9 545.3 L1268.9 547.3 L1268.9 549.3 L1268.9 551.3 L1268.9 553.3 L1268.9 555.3 L1268.9 557.3 L1268.9 559.3 L1268.9 561.3 L1268.9 563.3 L1268.9 565.3 L1268.9 567.3 L1268.9 569.3 L1268.9 571.3 L1269.0 573.3 L1269.0 575.3 L1269.0 577.3 L1269.0 579.3 L1269.0 581.4 L1269.0 583.4 L1269.0 585.4 L1269.0 587.4 L1269.0 589.4 L1269.0 591.4 L1269.0 593.4 L1269.0 595.4 L1269.0 597.4 L1269.0 599.4 L1269.0 601.4 L1269.0 603.4 L1269.0 605.4 L1269.0 607.4 L1269.0 609.4 L1269.0 611.4 L1269.0 613.4 L1269.0 615.4 L1269.0 617.4 L1269.0 619.4 L1269.1 621.4 L1269.1 623.4 L1269.1 625.4 L1269.1 627.4 L1269.1 629.4 L1269.1 631.4 L1269.1 633.4 L1269.1 635.4 L1269.1 637.4 L1269.1 639.4 L1269.1 641.4 L1269.1 643.4 L1269.1 645.4 L1269.1 647.4 L1269.1 649.4 L1269.1 651.4 L1269.1 653.4 L1269.2 655.4 L1269.2 657.4 L1269.2 659.4 L1269.2 661.4 L1269.2 663.4 L1269.2 665.4 L1269.2 667.4 L1269.2 669.4 L1269.2 671.4 L1269.2 673.4 L1269.2 675.4 L1269.2 677.4 L1269.2 679.4 L1269.2 681.4 L1269.2 683.4 L1269.2 685.4 L1269.2 687.4 L1269.3 689.4 L1269.3 691.4 L1269.3 693.4 L1269.3 695.4 L1269.3 697.4 L1269.3 699.4 L1269.3 701.4 L1269.3 703.4 L1269.3 705.4 L1269.3 707.5 L1269.3 709.5 L1269.3 711.5 L1269.3 713.5 L1269.3 715.5 L1269.3 717.5 L1269.3 719.5 L1269.4 721.5 L1269.4 723.5 L1269.4 725.5 L1269.4 727.5 L1269.4 729.5 L1269.4 731.5 L1269.4 733.5 L1269.4 735.5 L1269.4 737.5 L1269.4 739.5 L1269.4 741.5 L1269.4 743.5 L1269.4 745.5 L1269.4 747.5 L1269.4 749.5 L1269.4 751.5 L1269.5 753.5 L1269.5 755.5 L1269.5 757.5 L1269.5 759.5 L1269.5 761.5 L1269.5 763.5 L1269.5 765.5 L1269.5 767.5 L1269.5 769.5" stroke="#B177DE"/>
</g>
<g font-size="80">
<text transform="translate(204.8,1249.3) scale(1,1.044)" text-anchor="end">0</text>
<text transform="translate(204.8,1088.3) scale(1,1.044)" text-anchor="end">10</text>
<text transform="translate(204.8,927.3) scale(1,1.044)" text-anchor="end">20</text>
<text transform="translate(204.8,766.3) scale(1,1.044)" text-anchor="end">30</text>
<text transform="translate(204.8,605.3) scale(1,1.044)" text-anchor="end">40</text>
<text transform="translate(204.8,444.3) scale(1,1.044)" text-anchor="end">50</text>
<text transform="translate(204.8,283.3) scale(1,1.044)" text-anchor="end">60</text>
<text transform="translate(204.8,122.3) scale(1,1.044)" text-anchor="end">70</text>
<text transform="translate(245.5,1327.2) scale(1,1.044)" text-anchor="middle">0</text>
<text transform="translate(496.0,1327.2) scale(1,1.044)" text-anchor="middle">50</text>
<text transform="translate(746.5,1327.2) scale(1,1.044)" text-anchor="middle">100</text>
<text transform="translate(997.0,1327.2) scale(1,1.044)" text-anchor="middle">150</text>
<text transform="translate(1247.5,1327.2) scale(1,1.044)" text-anchor="middle">200</text>
<text transform="translate(1498.0,1327.2) scale(1,1.044)" text-anchor="middle">250</text>
<text transform="translate(1748.5,1327.2) scale(1,1.044)" text-anchor="middle">300</text>
</g>
<text x="997" y="1452.5" font-size="80" text-anchor="middle">Strain (%)</text>
<text transform="translate(85.7,861.1) rotate(-90)" font-size="80">Stress (N/m<tspan font-size="56" dy="-33" dx="-1.4">2</tspan><tspan dy="33" dx="1.2">)</tspan></text>
<g font-size="69.6">
<rect x="561" y="793.0" width="154" height="9.7" fill="#515151"/>
<text x="734" y="820.7">PVA</text>
<rect x="561" y="876.8" width="154" height="9.7" fill="#F14040"/>
<text x="734" y="904.6">PVA+0.2 ZnO</text>
<rect x="561" y="960.6" width="154" height="9.7" fill="#1A6FDF"/>
<text x="734" y="988.5">PVA+0.4 ZnO</text>
<rect x="561" y="1044.5" width="154" height="9.7" fill="#37AD6B"/>
<text x="734" y="1072.4">PVA+0.6 ZnO</text>
<rect x="561" y="1128.2" width="154" height="9.7" fill="#B177DE"/>
<text x="734" y="1156.3">PVA+0.8 ZnO</text>
</g>
</svg></body></html>
